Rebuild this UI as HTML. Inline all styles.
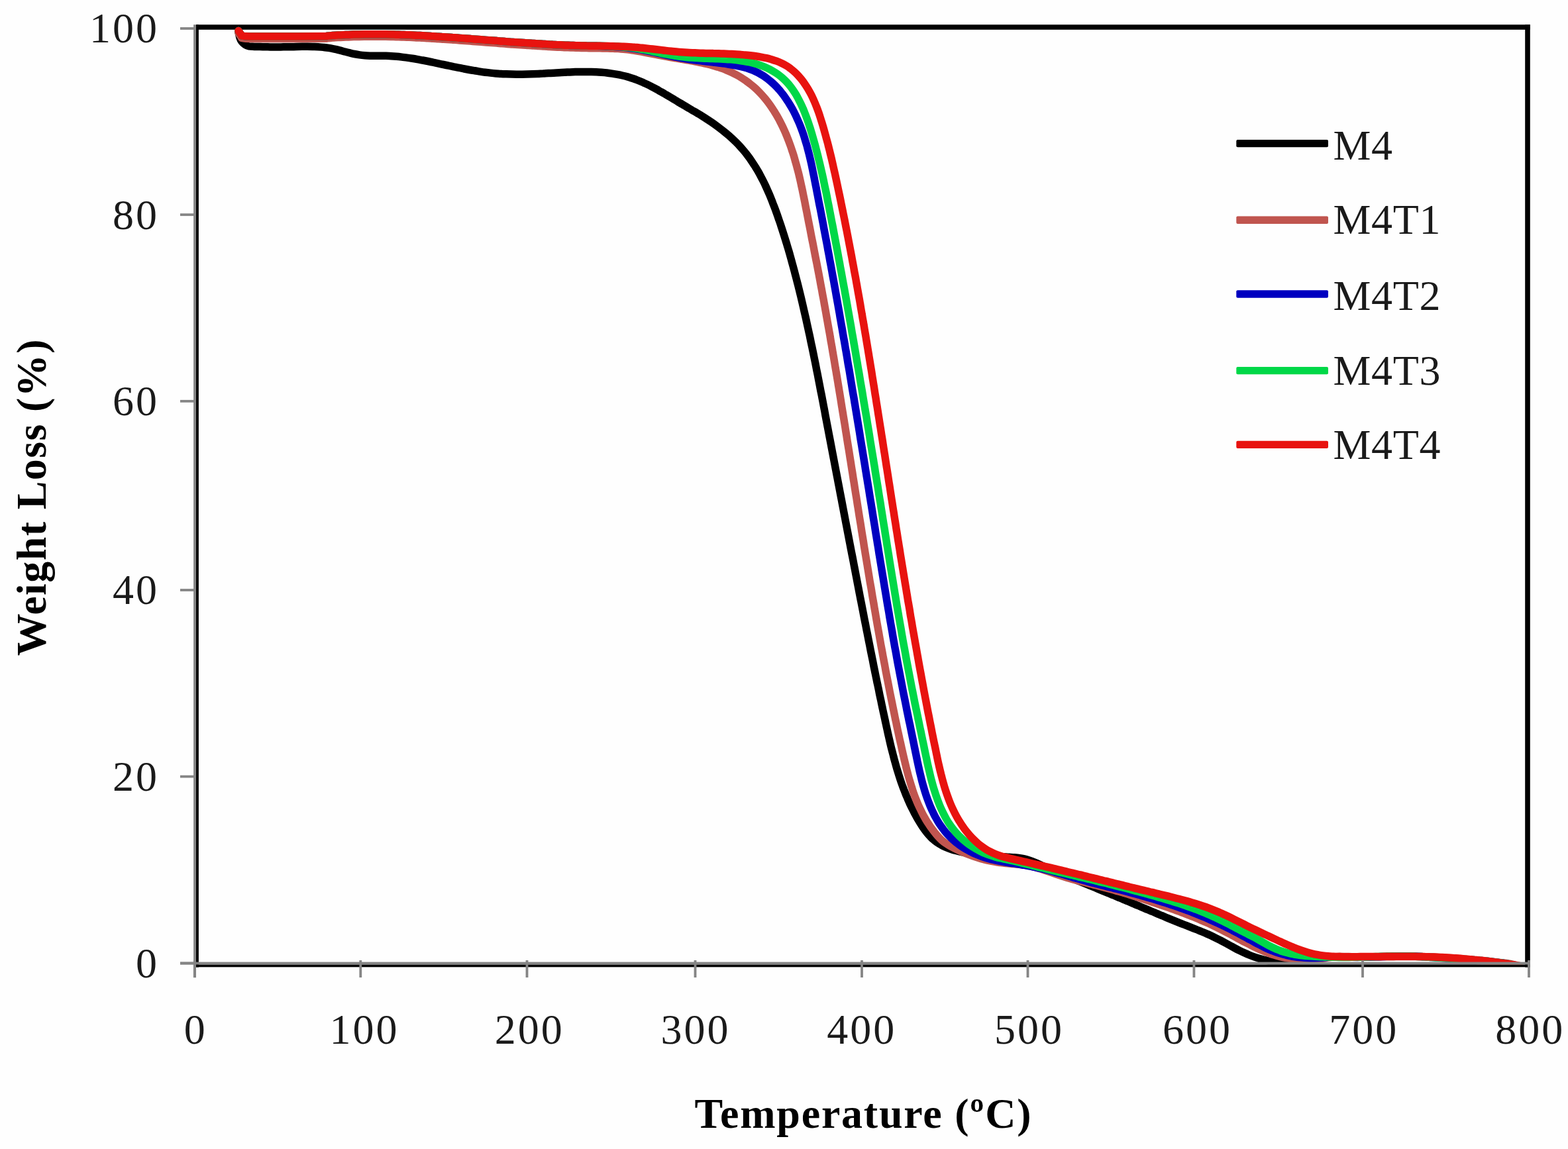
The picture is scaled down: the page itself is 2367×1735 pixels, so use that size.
<!DOCTYPE html>
<html lang="en">
<head>
<meta charset="utf-8">
<title>TGA curves: Weight Loss (%) vs Temperature (ºC)</title>
<style>
html,body{margin:0;padding:0;background:#fff;}
body{width:2367px;height:1735px;overflow:hidden;}
svg{display:block;filter:blur(0.7px);}
text{font-family:"Liberation Serif","DejaVu Serif",serif;fill:#1a1a1a;}
.tick{font-size:64px;letter-spacing:3px;}
.leg{font-size:64px;letter-spacing:0.7px;}
.ttl{font-size:64px;font-weight:bold;fill:#000;}
.crv{fill:none;stroke-linecap:round;stroke-linejoin:round;}
</style>
</head>
<body>
<svg width="2367" height="1735" viewBox="0 0 2367 1735">
<rect x="0" y="0" width="2367" height="1735" fill="#fefefe"/>

<g shape-rendering="geometricPrecision">
<rect x="296" y="37.2" width="2013.8" height="7.6" fill="#000"/>
<rect x="2302.2" y="37.2" width="7.6" height="1423.3" fill="#000"/>
<rect x="296" y="37.2" width="3.9" height="1423.3" fill="#000"/>
<rect x="296" y="1456.4" width="2013.8" height="3.9" fill="#000"/>
</g>
<clipPath id="plotclip"><rect x="296" y="30" width="2014" height="1426.5"/></clipPath>
<g class="crv" clip-path="url(#plotclip)">
<path d="M360.0,48.0 C360.3,49.5 361.2,54.5 362.0,57.0 C362.8,59.5 363.7,61.2 365.0,63.0 C366.3,64.8 368.2,66.3 370.0,67.5 C371.8,68.7 373.7,69.5 376.0,70.0 C378.3,70.5 381.3,70.3 384.0,70.4 C386.7,70.5 389.3,70.5 392.0,70.6 C394.7,70.7 397.3,70.8 400.0,70.8 C402.7,70.8 405.4,70.9 408.0,70.9 C410.6,70.9 413.2,70.9 415.9,70.9 C418.5,70.9 421.2,70.9 423.9,70.9 C426.6,70.9 429.2,70.8 431.9,70.8 C434.6,70.8 437.2,70.8 439.9,70.7 C442.6,70.7 445.3,70.6 448.0,70.5 C450.7,70.4 453.3,70.3 456.0,70.3 C458.7,70.3 461.3,70.3 464.0,70.3 C466.7,70.3 469.3,70.3 472.0,70.4 C474.7,70.5 477.3,70.5 480.0,70.7 C482.7,70.9 485.4,71.1 488.0,71.4 C490.6,71.7 493.3,72.0 495.9,72.4 C498.5,72.8 501.1,73.3 503.7,73.8 C506.3,74.3 508.9,74.9 511.5,75.6 C514.1,76.2 516.7,77.0 519.3,77.7 C521.9,78.4 524.4,79.1 527.0,79.7 C529.6,80.3 532.2,81.0 534.8,81.5 C537.4,82.0 540.1,82.5 542.7,82.9 C545.3,83.3 548.0,83.6 550.6,83.8 C553.2,84.0 555.9,84.1 558.6,84.2 C561.3,84.3 563.9,84.3 566.6,84.3 C569.3,84.3 572.0,84.2 574.7,84.2 C577.4,84.2 580.0,84.2 582.7,84.3 C585.4,84.4 588.1,84.5 590.7,84.7 C593.4,84.9 596.0,85.1 598.6,85.3 C601.2,85.5 603.9,85.8 606.5,86.1 C609.1,86.4 611.8,86.8 614.4,87.1 C617.0,87.4 619.7,87.8 622.3,88.2 C624.9,88.6 627.6,89.1 630.2,89.6 C632.8,90.1 635.4,90.5 638.0,91.0 C640.6,91.5 643.3,92.0 645.9,92.5 C648.5,93.0 651.1,93.5 653.7,94.1 C656.3,94.6 658.9,95.2 661.5,95.8 C664.1,96.4 666.8,97.0 669.4,97.5 C672.0,98.0 674.6,98.5 677.2,99.1 C679.8,99.6 682.5,100.2 685.1,100.8 C687.7,101.3 690.4,101.9 693.0,102.4 C695.6,102.9 698.3,103.5 700.9,104.0 C703.5,104.5 706.2,105.0 708.8,105.5 C711.4,106.0 714.1,106.4 716.7,106.8 C719.3,107.2 722.0,107.7 724.6,108.1 C727.2,108.5 729.9,108.9 732.5,109.2 C735.1,109.5 737.8,109.8 740.4,110.1 C743.0,110.4 745.7,110.7 748.3,110.9 C750.9,111.1 753.6,111.2 756.2,111.4 C758.9,111.6 761.6,111.7 764.2,111.8 C766.9,111.9 769.5,112.0 772.1,112.1 C774.7,112.2 777.4,112.2 780.0,112.2 C782.6,112.2 785.4,112.2 788.0,112.2 C790.6,112.2 793.2,112.2 795.9,112.1 C798.5,112.0 801.2,111.9 803.9,111.8 C806.6,111.7 809.3,111.6 812.0,111.5 C814.7,111.4 817.3,111.2 820.0,111.1 C822.7,110.9 825.3,110.8 828.0,110.6 C830.7,110.4 833.4,110.3 836.1,110.2 C838.8,110.1 841.5,109.9 844.2,109.7 C846.9,109.5 849.5,109.4 852.2,109.3 C854.9,109.2 857.6,109.0 860.3,108.9 C863.0,108.8 865.7,108.7 868.4,108.6 C871.1,108.5 873.7,108.4 876.4,108.4 C879.1,108.4 881.7,108.4 884.4,108.4 C887.1,108.4 889.8,108.4 892.4,108.5 C895.0,108.6 897.6,108.7 900.3,108.8 C902.9,108.9 905.7,109.1 908.3,109.3 C910.9,109.5 913.5,109.7 916.1,110.0 C918.7,110.3 921.3,110.7 923.9,111.1 C926.5,111.5 929.1,111.9 931.7,112.4 C934.3,112.9 936.8,113.4 939.4,114.0 C942.0,114.6 944.6,115.2 947.1,115.9 C949.6,116.6 952.1,117.5 954.6,118.3 C957.1,119.1 959.6,120.0 962.1,121.0 C964.6,122.0 967.0,123.0 969.5,124.1 C972.0,125.2 974.4,126.2 976.9,127.4 C979.4,128.6 981.8,129.8 984.2,131.1 C986.6,132.3 989.0,133.6 991.4,134.9 C993.8,136.2 996.1,137.6 998.5,138.9 C1000.9,140.2 1003.2,141.6 1005.6,143.0 C1008.0,144.4 1010.3,145.8 1012.6,147.2 C1014.9,148.6 1017.3,150.0 1019.6,151.4 C1021.9,152.8 1024.2,154.1 1026.5,155.5 C1028.8,156.9 1031.1,158.2 1033.4,159.6 C1035.7,160.9 1038.0,162.3 1040.2,163.6 C1042.5,164.9 1044.7,166.3 1046.9,167.6 C1049.2,168.9 1051.5,170.2 1053.7,171.6 C1056.0,172.9 1058.2,174.3 1060.4,175.7 C1062.6,177.1 1064.8,178.5 1067.0,179.9 C1069.2,181.3 1071.5,182.8 1073.7,184.3 C1075.9,185.8 1078.0,187.3 1080.2,188.9 C1082.4,190.5 1084.6,192.1 1086.7,193.7 C1088.8,195.3 1091.0,197.0 1093.1,198.7 C1095.2,200.4 1097.3,202.1 1099.3,203.8 C1101.3,205.6 1103.3,207.4 1105.3,209.2 C1107.3,211.0 1109.2,212.9 1111.1,214.8 C1113.0,216.7 1114.9,218.6 1116.7,220.6 C1118.5,222.6 1120.3,224.6 1122.0,226.6 C1123.7,228.6 1125.4,230.6 1127.0,232.7 C1128.6,234.8 1130.2,236.9 1131.7,239.1 C1133.2,241.3 1134.7,243.5 1136.2,245.7 C1137.7,247.9 1139.1,250.2 1140.5,252.4 C1141.9,254.7 1143.3,256.9 1144.6,259.2 C1145.9,261.5 1147.2,263.8 1148.4,266.2 C1149.7,268.6 1150.9,270.9 1152.1,273.3 C1153.3,275.7 1154.5,278.1 1155.6,280.5 C1156.7,282.9 1157.8,285.4 1158.9,287.9 C1160.0,290.3 1161.1,292.7 1162.1,295.2 C1163.1,297.7 1164.1,300.2 1165.1,302.7 C1166.1,305.2 1167.0,307.7 1168.0,310.2 C1169.0,312.7 1170.0,315.3 1170.9,317.8 C1171.8,320.3 1172.7,322.8 1173.6,325.3 C1174.5,327.8 1175.3,330.4 1176.2,332.9 C1177.1,335.4 1178.0,337.9 1178.8,340.5 C1179.6,343.1 1180.5,345.6 1181.3,348.2 C1182.1,350.8 1182.9,353.3 1183.7,355.8 C1184.5,358.3 1185.3,360.8 1186.1,363.4 C1186.9,365.9 1187.6,368.5 1188.4,371.1 C1189.2,373.7 1190.0,376.2 1190.7,378.8 C1191.5,381.4 1192.2,383.8 1192.9,386.4 C1193.6,388.9 1194.3,391.5 1195.0,394.1 C1195.7,396.7 1196.4,399.2 1197.1,401.8 C1197.8,404.4 1198.5,407.0 1199.2,409.6 C1199.9,412.2 1200.5,414.7 1201.2,417.3 C1201.9,419.9 1202.5,422.4 1203.2,425.0 C1203.9,427.6 1204.6,430.2 1205.2,432.8 C1205.8,435.4 1206.5,437.9 1207.1,440.5 C1207.7,443.1 1208.4,445.7 1209.0,448.3 C1209.6,450.9 1210.2,453.4 1210.8,456.0 C1211.4,458.6 1212.0,461.2 1212.6,463.8 C1213.2,466.4 1213.8,469.0 1214.4,471.6 C1215.0,474.2 1215.6,476.8 1216.2,479.4 C1216.8,482.0 1217.3,484.6 1217.9,487.2 C1218.5,489.8 1219.0,492.4 1219.6,495.0 C1220.2,497.6 1220.7,500.2 1221.3,502.8 C1221.9,505.4 1222.5,508.0 1223.0,510.6 C1223.5,513.2 1224.0,515.9 1224.6,518.5 C1225.1,521.1 1225.8,523.7 1226.3,526.3 C1226.8,528.9 1227.4,531.5 1227.9,534.1 C1228.4,536.7 1229.0,539.4 1229.5,542.0 C1230.0,544.6 1230.6,547.2 1231.1,549.8 C1231.6,552.4 1232.1,555.1 1232.6,557.7 C1233.1,560.3 1233.7,562.9 1234.2,565.5 C1234.7,568.1 1235.2,570.8 1235.7,573.4 C1236.2,576.0 1236.7,578.6 1237.2,581.2 C1237.7,583.8 1238.2,586.5 1238.7,589.1 C1239.2,591.7 1239.8,594.3 1240.3,596.9 C1240.8,599.5 1241.3,602.2 1241.8,604.8 C1242.3,607.4 1242.8,610.1 1243.3,612.7 C1243.8,615.3 1244.3,617.9 1244.8,620.5 C1245.3,623.1 1245.7,625.8 1246.2,628.4 C1246.7,631.0 1247.2,633.7 1247.7,636.3 C1248.2,638.9 1248.7,641.5 1249.2,644.1 C1249.7,646.7 1250.2,649.4 1250.7,652.0 C1251.2,654.6 1251.7,657.3 1252.2,659.9 C1252.7,662.5 1253.2,665.1 1253.7,667.7 C1254.2,670.3 1254.7,673.0 1255.2,675.6 C1255.7,678.2 1256.2,680.9 1256.7,683.5 C1257.2,686.1 1257.7,688.7 1258.2,691.3 C1258.7,693.9 1259.2,696.6 1259.7,699.2 C1260.2,701.8 1260.7,704.5 1261.2,707.1 C1261.7,709.7 1262.2,712.3 1262.7,714.9 C1263.2,717.5 1263.7,720.2 1264.2,722.8 C1264.7,725.4 1265.2,728.0 1265.7,730.6 C1266.2,733.2 1266.7,735.9 1267.2,738.5 C1267.7,741.1 1268.2,743.8 1268.7,746.4 C1269.2,749.0 1269.7,751.6 1270.2,754.2 C1270.7,756.8 1271.2,759.5 1271.7,762.1 C1272.2,764.7 1272.7,767.4 1273.2,770.0 C1273.7,772.6 1274.2,775.2 1274.7,777.8 C1275.2,780.4 1275.7,783.1 1276.2,785.7 C1276.7,788.3 1277.2,790.9 1277.7,793.5 C1278.2,796.1 1278.7,798.8 1279.2,801.4 C1279.7,804.0 1280.2,806.6 1280.7,809.2 C1281.2,811.8 1281.7,814.5 1282.2,817.1 C1282.7,819.7 1283.2,822.3 1283.7,824.9 C1284.2,827.5 1284.7,830.2 1285.2,832.8 C1285.7,835.4 1286.3,838.1 1286.8,840.7 C1287.3,843.3 1287.8,845.9 1288.3,848.5 C1288.8,851.1 1289.3,853.8 1289.8,856.4 C1290.3,859.0 1290.8,861.6 1291.3,864.2 C1291.8,866.8 1292.3,869.4 1292.8,872.0 C1293.3,874.6 1293.8,877.3 1294.3,879.9 C1294.8,882.5 1295.3,885.1 1295.8,887.7 C1296.3,890.3 1296.8,893.0 1297.3,895.6 C1297.8,898.2 1298.3,900.8 1298.8,903.4 C1299.3,906.0 1299.9,908.7 1300.4,911.3 C1300.9,913.9 1301.4,916.5 1301.9,919.1 C1302.4,921.7 1302.9,924.3 1303.4,926.9 C1303.9,929.5 1304.4,932.2 1304.9,934.8 C1305.4,937.4 1306.0,940.0 1306.5,942.6 C1307.0,945.2 1307.5,947.9 1308.0,950.5 C1308.5,953.1 1309.1,955.7 1309.6,958.3 C1310.1,960.9 1310.6,963.5 1311.1,966.1 C1311.6,968.7 1312.2,971.4 1312.7,974.0 C1313.2,976.6 1313.7,979.2 1314.2,981.8 C1314.7,984.4 1315.3,987.1 1315.8,989.7 C1316.3,992.3 1316.9,994.9 1317.4,997.5 C1317.9,1000.1 1318.4,1002.7 1318.9,1005.3 C1319.4,1007.9 1320.0,1010.6 1320.5,1013.2 C1321.0,1015.8 1321.6,1018.4 1322.1,1021.0 C1322.6,1023.6 1323.2,1026.3 1323.7,1028.9 C1324.2,1031.5 1324.9,1034.1 1325.4,1036.7 C1326.0,1039.3 1326.5,1042.0 1327.0,1044.6 C1327.5,1047.2 1328.0,1049.8 1328.6,1052.4 C1329.1,1055.0 1329.8,1057.7 1330.3,1060.3 C1330.8,1062.9 1331.4,1065.5 1331.9,1068.1 C1332.5,1070.7 1333.0,1073.4 1333.6,1076.0 C1334.2,1078.6 1334.7,1081.2 1335.3,1083.8 C1335.9,1086.4 1336.4,1089.1 1337.0,1091.7 C1337.6,1094.3 1338.1,1096.9 1338.7,1099.5 C1339.3,1102.1 1339.8,1104.8 1340.4,1107.4 C1341.0,1110.0 1341.6,1112.6 1342.2,1115.2 C1342.8,1117.8 1343.4,1120.5 1344.0,1123.1 C1344.6,1125.7 1345.2,1128.3 1345.9,1130.9 C1346.6,1133.5 1347.2,1136.0 1347.9,1138.6 C1348.6,1141.2 1349.2,1143.8 1349.9,1146.4 C1350.6,1149.0 1351.3,1151.5 1352.0,1154.1 C1352.7,1156.7 1353.4,1159.2 1354.2,1161.8 C1355.0,1164.3 1355.8,1166.9 1356.6,1169.4 C1357.4,1171.9 1358.2,1174.5 1359.0,1177.0 C1359.8,1179.5 1360.7,1182.1 1361.6,1184.6 C1362.5,1187.1 1363.5,1189.5 1364.4,1192.0 C1365.4,1194.5 1366.3,1196.9 1367.3,1199.4 C1368.3,1201.9 1369.4,1204.3 1370.4,1206.8 C1371.5,1209.2 1372.5,1211.7 1373.6,1214.1 C1374.7,1216.5 1375.9,1218.8 1377.1,1221.2 C1378.3,1223.6 1379.5,1225.9 1380.7,1228.3 C1382.0,1230.7 1383.3,1233.1 1384.6,1235.4 C1385.9,1237.7 1387.3,1240.0 1388.7,1242.3 C1390.1,1244.6 1391.5,1246.8 1393.0,1249.0 C1394.5,1251.2 1396.1,1253.4 1397.7,1255.5 C1399.3,1257.6 1401.0,1259.6 1402.8,1261.6 C1404.6,1263.5 1406.3,1265.5 1408.3,1267.2 C1410.2,1269.0 1412.3,1270.6 1414.5,1272.1 C1416.7,1273.6 1419.0,1275.0 1421.3,1276.2 C1423.6,1277.5 1426.0,1278.5 1428.5,1279.6 C1431.0,1280.6 1433.5,1281.6 1436.1,1282.5 C1438.7,1283.4 1441.3,1284.1 1444.0,1284.8 C1446.7,1285.5 1449.3,1286.1 1452.0,1286.7 C1454.7,1287.3 1457.4,1287.7 1460.1,1288.2 C1462.8,1288.7 1465.4,1289.1 1468.0,1289.5 C1470.6,1289.9 1473.3,1290.2 1475.9,1290.5 C1478.5,1290.8 1481.2,1291.1 1483.8,1291.4 C1486.4,1291.7 1489.0,1291.9 1491.6,1292.1 C1494.2,1292.3 1496.8,1292.5 1499.4,1292.7 C1502.0,1292.9 1504.7,1293.0 1507.3,1293.2 C1509.9,1293.4 1512.5,1293.5 1515.2,1293.7 C1517.9,1293.9 1520.6,1294.0 1523.3,1294.2 C1526.0,1294.4 1528.6,1294.5 1531.3,1294.8 C1534.0,1295.1 1536.7,1295.4 1539.4,1295.8 C1542.1,1296.2 1544.7,1296.6 1547.3,1297.2 C1549.9,1297.8 1552.5,1298.6 1555.0,1299.4 C1557.5,1300.2 1560.0,1301.2 1562.4,1302.2 C1564.9,1303.2 1567.3,1304.3 1569.7,1305.4 C1572.1,1306.5 1574.6,1307.7 1577.0,1308.8 C1579.4,1309.9 1581.8,1310.9 1584.3,1312.0 C1586.8,1313.1 1589.2,1314.2 1591.7,1315.2 C1594.2,1316.2 1596.6,1317.3 1599.1,1318.3 C1601.6,1319.3 1604.0,1320.3 1606.5,1321.3 C1609.0,1322.3 1611.4,1323.4 1613.9,1324.4 C1616.4,1325.4 1618.8,1326.4 1621.3,1327.4 C1623.8,1328.4 1626.1,1329.5 1628.6,1330.5 C1631.0,1331.5 1633.5,1332.5 1636.0,1333.5 C1638.5,1334.5 1640.9,1335.5 1643.4,1336.5 C1645.9,1337.5 1648.3,1338.5 1650.8,1339.5 C1653.3,1340.5 1655.7,1341.6 1658.2,1342.6 C1660.7,1343.6 1663.1,1344.6 1665.6,1345.6 C1668.1,1346.6 1670.5,1347.6 1673.0,1348.6 C1675.5,1349.6 1677.9,1350.7 1680.4,1351.7 C1682.9,1352.7 1685.3,1353.8 1687.8,1354.8 C1690.2,1355.8 1692.6,1356.9 1695.1,1357.9 C1697.5,1358.9 1700.0,1360.0 1702.5,1361.0 C1705.0,1362.0 1707.4,1363.1 1709.9,1364.1 C1712.4,1365.1 1714.8,1366.2 1717.3,1367.2 C1719.8,1368.2 1722.2,1369.3 1724.7,1370.3 C1727.2,1371.3 1729.6,1372.4 1732.1,1373.4 C1734.6,1374.4 1737.0,1375.5 1739.5,1376.5 C1742.0,1377.5 1744.3,1378.6 1746.8,1379.6 C1749.2,1380.6 1751.7,1381.7 1754.2,1382.7 C1756.7,1383.7 1759.1,1384.8 1761.6,1385.8 C1764.1,1386.8 1766.5,1387.8 1769.0,1388.8 C1771.5,1389.8 1773.9,1390.8 1776.4,1391.8 C1778.9,1392.8 1781.3,1393.8 1783.8,1394.8 C1786.3,1395.8 1788.7,1396.7 1791.2,1397.7 C1793.7,1398.7 1796.1,1399.6 1798.6,1400.6 C1801.1,1401.6 1803.5,1402.5 1806.0,1403.5 C1808.5,1404.5 1810.8,1405.5 1813.3,1406.5 C1815.8,1407.5 1818.2,1408.5 1820.7,1409.6 C1823.2,1410.6 1825.6,1411.7 1828.0,1412.8 C1830.4,1413.9 1832.8,1415.1 1835.2,1416.3 C1837.6,1417.5 1840.0,1418.7 1842.4,1419.9 C1844.8,1421.2 1847.2,1422.5 1849.6,1423.8 C1852.0,1425.1 1854.4,1426.4 1856.8,1427.7 C1859.2,1429.0 1861.5,1430.3 1863.9,1431.6 C1866.3,1432.9 1868.7,1434.1 1871.1,1435.3 C1873.5,1436.5 1876.0,1437.7 1878.4,1438.8 C1880.8,1439.9 1883.2,1441.0 1885.7,1442.0 C1888.2,1443.0 1890.7,1443.9 1893.2,1444.8 C1895.7,1445.7 1898.2,1446.5 1900.7,1447.3 C1903.2,1448.1 1905.8,1448.7 1908.3,1449.4 C1910.8,1450.1 1913.4,1450.7 1916.0,1451.3 C1918.6,1451.9 1921.2,1452.4 1923.8,1452.9 C1926.4,1453.4 1929.0,1453.8 1931.6,1454.2 C1934.2,1454.6 1936.8,1455.0 1939.4,1455.3 C1942.0,1455.6 1944.7,1456.0 1947.3,1456.3 C1949.9,1456.6 1952.6,1456.8 1955.3,1457.0 C1958.0,1457.2 1960.5,1457.4 1963.2,1457.6 C1965.9,1457.8 1968.5,1457.9 1971.2,1458.0 C1973.9,1458.1 1976.6,1458.3 1979.3,1458.4 C1982.0,1458.5 1984.6,1458.6 1987.3,1458.7 C1990.0,1458.8 1992.6,1458.9 1995.3,1458.9 C1998.0,1459.0 2000.7,1459.0 2003.4,1459.0 C2006.1,1459.0 2008.7,1459.0 2011.4,1459.1 C2014.1,1459.1 2016.7,1459.3 2019.4,1459.3 C2022.1,1459.3 2024.7,1459.3 2027.4,1459.3 C2030.1,1459.3 2032.8,1459.4 2035.5,1459.4 C2038.2,1459.4 2040.8,1459.5 2043.5,1459.5 C2046.2,1459.5 2048.8,1459.5 2051.5,1459.5 C2054.2,1459.5 2056.8,1459.5 2059.5,1459.5 C2062.2,1459.5 2064.8,1459.5 2067.5,1459.5 C2070.2,1459.5 2072.8,1459.5 2075.5,1459.5 C2078.2,1459.5 2080.8,1459.5 2083.5,1459.5 C2086.2,1459.5 2088.8,1459.4 2091.5,1459.4 C2094.2,1459.4 2096.8,1459.4 2099.5,1459.4 C2102.2,1459.4 2104.8,1459.3 2107.5,1459.3 C2110.2,1459.3 2112.8,1459.3 2115.4,1459.3 C2118.1,1459.3 2120.7,1459.2 2123.4,1459.2 C2126.1,1459.2 2128.7,1459.1 2131.4,1459.1 C2134.1,1459.1 2136.7,1459.1 2139.4,1459.1 C2142.1,1459.1 2144.7,1459.0 2147.4,1459.0 C2150.1,1459.0 2152.7,1458.9 2155.4,1458.9 C2158.1,1458.9 2160.7,1458.9 2163.4,1458.9 C2166.1,1458.9 2168.7,1458.8 2171.4,1458.8 C2174.1,1458.8 2176.8,1458.8 2179.4,1458.8 C2182.1,1458.8 2184.7,1458.7 2187.3,1458.7 C2190.0,1458.7 2192.6,1458.7 2195.3,1458.7 C2198.0,1458.7 2200.6,1458.7 2203.3,1458.7 C2206.0,1458.7 2208.6,1458.6 2211.3,1458.6 C2214.0,1458.6 2216.6,1458.6 2219.3,1458.6 C2222.0,1458.6 2224.6,1458.6 2227.3,1458.6 C2230.0,1458.6 2232.6,1458.7 2235.3,1458.7 C2238.0,1458.7 2240.6,1458.7 2243.3,1458.7 C2246.0,1458.7 2248.6,1458.8 2251.3,1458.8 C2254.0,1458.8 2256.7,1458.9 2259.4,1458.9 C2262.1,1458.9 2264.7,1459.0 2267.4,1459.0 C2270.1,1459.0 2273.3,1459.1 2275.4,1459.1 C2277.5,1459.1 2279.2,1459.2 2280.0,1459.2" stroke="#000000" stroke-width="11.5"/>
<path d="M360.0,50.0 C360.7,50.9 362.2,54.1 364.0,55.5 C365.8,56.9 361.7,57.8 371.0,58.3 C380.3,58.8 400.8,58.4 420.0,58.4 C439.2,58.4 473.7,58.4 486.0,58.3 C498.3,58.2 491.3,57.9 494.0,57.7 C496.7,57.5 499.3,57.3 502.0,57.1 C504.7,56.9 507.3,56.8 510.0,56.6 C512.7,56.5 515.3,56.3 518.0,56.2 C520.7,56.1 523.3,56.0 526.0,55.9 C528.7,55.8 531.3,55.7 534.0,55.6 C536.7,55.5 539.3,55.5 542.0,55.4 C544.7,55.3 547.3,55.3 550.0,55.3 C552.7,55.3 555.3,55.2 558.0,55.2 C560.7,55.2 563.3,55.2 566.0,55.2 C568.7,55.2 571.3,55.2 574.0,55.2 C576.7,55.2 579.3,55.2 582.0,55.3 C584.7,55.3 587.4,55.4 590.0,55.5 C592.6,55.6 595.2,55.6 597.9,55.7 C600.5,55.8 603.2,55.8 605.9,55.9 C608.6,56.0 611.2,56.1 613.9,56.2 C616.6,56.3 619.2,56.4 621.9,56.5 C624.6,56.6 627.2,56.8 629.9,56.9 C632.6,57.0 635.2,57.2 637.9,57.3 C640.6,57.4 643.2,57.6 645.9,57.7 C648.5,57.9 651.1,58.0 653.8,58.2 C656.4,58.4 659.1,58.5 661.8,58.7 C664.5,58.9 667.1,59.0 669.8,59.2 C672.5,59.4 675.1,59.6 677.8,59.8 C680.5,60.0 683.1,60.1 685.8,60.3 C688.5,60.5 691.1,60.7 693.8,60.9 C696.4,61.1 699.1,61.3 701.7,61.5 C704.4,61.7 707.0,61.9 709.7,62.1 C712.4,62.3 715.0,62.5 717.7,62.7 C720.4,62.9 723.0,63.1 725.7,63.3 C728.4,63.5 731.1,63.7 733.7,63.9 C736.4,64.1 739.0,64.3 741.6,64.5 C744.2,64.7 746.9,64.9 749.6,65.1 C752.3,65.3 754.9,65.6 757.6,65.8 C760.3,66.0 762.9,66.2 765.6,66.4 C768.3,66.6 771.0,66.7 773.6,66.9 C776.2,67.1 778.9,67.3 781.5,67.5 C784.1,67.7 786.8,67.9 789.5,68.1 C792.2,68.3 794.8,68.4 797.5,68.6 C800.2,68.8 802.8,68.9 805.5,69.1 C808.2,69.3 810.8,69.4 813.5,69.6 C816.2,69.8 818.9,69.9 821.5,70.1 C824.1,70.3 826.8,70.4 829.4,70.6 C832.0,70.8 834.7,70.9 837.4,71.0 C840.1,71.1 842.7,71.2 845.4,71.3 C848.1,71.4 850.7,71.6 853.4,71.7 C856.1,71.8 858.7,71.9 861.4,72.0 C864.1,72.1 866.7,72.1 869.4,72.2 C872.1,72.3 874.7,72.3 877.4,72.4 C880.1,72.5 882.8,72.5 885.4,72.6 C888.0,72.6 890.6,72.7 893.3,72.7 C895.9,72.7 898.6,72.8 901.3,72.8 C904.0,72.8 906.6,72.9 909.3,72.9 C912.0,72.9 914.6,72.9 917.3,73.0 C920.0,73.1 922.6,73.2 925.3,73.3 C928.0,73.4 930.6,73.4 933.3,73.6 C936.0,73.8 938.6,74.0 941.3,74.2 C944.0,74.5 946.6,74.7 949.3,75.1 C952.0,75.5 954.7,76.0 957.3,76.4 C959.9,76.8 962.5,77.2 965.1,77.6 C967.7,78.0 970.3,78.5 972.9,79.0 C975.5,79.5 978.2,80.0 980.8,80.5 C983.4,81.0 986.1,81.5 988.7,82.0 C991.3,82.5 994.0,83.1 996.6,83.6 C999.2,84.1 1001.9,84.6 1004.5,85.1 C1007.1,85.6 1009.8,86.0 1012.4,86.5 C1015.0,87.0 1017.7,87.5 1020.3,87.9 C1022.9,88.4 1025.6,88.8 1028.2,89.2 C1030.8,89.6 1033.5,90.0 1036.1,90.5 C1038.7,91.0 1041.3,91.4 1043.9,91.9 C1046.5,92.4 1049.2,92.8 1051.8,93.3 C1054.4,93.8 1057.0,94.3 1059.6,94.9 C1062.2,95.5 1064.7,96.1 1067.3,96.7 C1069.9,97.3 1072.5,97.9 1075.0,98.6 C1077.5,99.3 1080.1,100.1 1082.6,100.9 C1085.1,101.7 1087.7,102.5 1090.2,103.4 C1092.7,104.3 1095.1,105.3 1097.6,106.3 C1100.1,107.3 1102.6,108.4 1105.0,109.6 C1107.4,110.8 1109.8,112.0 1112.2,113.3 C1114.6,114.6 1116.9,116.0 1119.2,117.4 C1121.5,118.8 1123.8,120.4 1126.0,121.9 C1128.2,123.5 1130.3,125.0 1132.4,126.7 C1134.5,128.3 1136.6,130.1 1138.6,131.8 C1140.6,133.6 1142.5,135.3 1144.4,137.2 C1146.3,139.1 1148.1,141.0 1149.9,143.0 C1151.7,145.0 1153.4,147.0 1155.1,149.0 C1156.8,151.0 1158.4,153.1 1160.0,155.2 C1161.6,157.3 1163.1,159.5 1164.6,161.7 C1166.1,163.9 1167.5,166.2 1168.9,168.4 C1170.3,170.7 1171.7,172.9 1173.0,175.2 C1174.3,177.5 1175.7,179.8 1176.9,182.2 C1178.2,184.6 1179.3,187.0 1180.5,189.4 C1181.7,191.8 1182.8,194.2 1183.9,196.6 C1185.0,199.0 1186.1,201.5 1187.1,204.0 C1188.1,206.5 1189.0,208.9 1190.0,211.4 C1191.0,213.9 1191.9,216.4 1192.8,218.9 C1193.7,221.4 1194.6,223.9 1195.4,226.4 C1196.2,228.9 1197.1,231.4 1197.9,234.0 C1198.7,236.6 1199.4,239.1 1200.1,241.7 C1200.8,244.3 1201.6,246.8 1202.3,249.4 C1203.0,252.0 1203.6,254.5 1204.3,257.1 C1205.0,259.7 1205.7,262.3 1206.3,264.9 C1206.9,267.5 1207.5,270.1 1208.1,272.7 C1208.7,275.3 1209.2,278.0 1209.8,280.6 C1210.4,283.2 1211.0,285.8 1211.5,288.4 C1212.0,291.0 1212.6,293.7 1213.1,296.3 C1213.6,298.9 1214.2,301.6 1214.7,304.2 C1215.2,306.8 1215.7,309.5 1216.2,312.1 C1216.7,314.7 1217.3,317.4 1217.8,320.0 C1218.3,322.6 1218.8,325.3 1219.3,327.9 C1219.8,330.5 1220.3,333.1 1220.8,335.7 C1221.3,338.3 1221.9,341.0 1222.4,343.6 C1222.9,346.2 1223.4,348.9 1223.9,351.5 C1224.4,354.1 1224.9,356.7 1225.4,359.3 C1225.9,361.9 1226.5,364.6 1227.0,367.2 C1227.5,369.8 1228.0,372.4 1228.5,375.0 C1229.0,377.6 1229.5,380.3 1230.0,382.9 C1230.5,385.5 1231.0,388.1 1231.5,390.7 C1232.0,393.3 1232.6,395.9 1233.1,398.5 C1233.6,401.1 1234.1,403.8 1234.6,406.4 C1235.1,409.0 1235.6,411.6 1236.1,414.2 C1236.6,416.8 1237.1,419.5 1237.6,422.1 C1238.1,424.7 1238.5,427.3 1239.0,429.9 C1239.5,432.5 1240.0,435.2 1240.5,437.8 C1241.0,440.4 1241.4,443.0 1241.9,445.6 C1242.4,448.2 1242.9,450.9 1243.4,453.5 C1243.9,456.1 1244.3,458.8 1244.8,461.4 C1245.3,464.0 1245.7,466.6 1246.2,469.2 C1246.7,471.8 1247.1,474.5 1247.6,477.1 C1248.1,479.7 1248.5,482.4 1249.0,485.0 C1249.5,487.6 1249.9,490.2 1250.4,492.8 C1250.9,495.4 1251.3,498.1 1251.8,500.7 C1252.3,503.3 1252.8,506.0 1253.2,508.6 C1253.7,511.2 1254.0,513.9 1254.5,516.5 C1255.0,519.1 1255.5,521.7 1255.9,524.3 C1256.4,526.9 1256.8,529.6 1257.2,532.2 C1257.7,534.8 1258.1,537.5 1258.6,540.1 C1259.0,542.7 1259.5,545.4 1259.9,548.0 C1260.3,550.6 1260.8,553.3 1261.2,555.9 C1261.7,558.5 1262.1,561.2 1262.6,563.8 C1263.0,566.4 1263.5,569.1 1263.9,571.7 C1264.3,574.3 1264.8,577.0 1265.2,579.6 C1265.6,582.2 1266.1,584.9 1266.5,587.5 C1266.9,590.1 1267.4,592.8 1267.8,595.4 C1268.2,598.0 1268.7,600.7 1269.1,603.3 C1269.5,605.9 1269.9,608.6 1270.3,611.2 C1270.7,613.8 1271.2,616.5 1271.6,619.1 C1272.0,621.7 1272.5,624.4 1272.9,627.0 C1273.3,629.6 1273.8,632.3 1274.2,634.9 C1274.6,637.5 1275.1,640.2 1275.5,642.8 C1275.9,645.4 1276.3,648.1 1276.7,650.7 C1277.1,653.3 1277.6,656.0 1278.0,658.6 C1278.4,661.2 1278.8,663.9 1279.2,666.5 C1279.6,669.1 1280.1,671.8 1280.5,674.4 C1280.9,677.0 1281.4,679.7 1281.8,682.3 C1282.2,684.9 1282.6,687.6 1283.0,690.2 C1283.4,692.8 1283.9,695.5 1284.3,698.1 C1284.7,700.7 1285.1,703.4 1285.5,706.0 C1285.9,708.6 1286.4,711.3 1286.8,713.9 C1287.2,716.5 1287.6,719.2 1288.0,721.8 C1288.4,724.4 1288.9,727.1 1289.3,729.7 C1289.7,732.3 1290.1,735.0 1290.5,737.6 C1290.9,740.2 1291.4,743.0 1291.8,745.6 C1292.2,748.2 1292.7,750.9 1293.1,753.5 C1293.5,756.1 1293.9,758.8 1294.3,761.4 C1294.7,764.0 1295.2,766.7 1295.6,769.3 C1296.0,771.9 1296.4,774.6 1296.8,777.2 C1297.2,779.8 1297.7,782.5 1298.1,785.1 C1298.5,787.7 1299.0,790.4 1299.4,793.0 C1299.8,795.6 1300.2,798.3 1300.6,800.9 C1301.0,803.5 1301.5,806.2 1301.9,808.8 C1302.3,811.4 1302.8,814.1 1303.2,816.7 C1303.6,819.3 1304.0,822.0 1304.4,824.6 C1304.8,827.2 1305.3,829.9 1305.7,832.5 C1306.1,835.1 1306.6,837.7 1307.0,840.3 C1307.4,842.9 1307.9,845.6 1308.3,848.2 C1308.7,850.8 1309.2,853.5 1309.6,856.1 C1310.0,858.7 1310.5,861.4 1310.9,864.0 C1311.3,866.6 1311.8,869.3 1312.2,871.9 C1312.6,874.5 1313.0,877.2 1313.5,879.8 C1314.0,882.4 1314.5,885.1 1314.9,887.7 C1315.4,890.3 1315.8,892.9 1316.2,895.5 C1316.6,898.1 1317.0,900.8 1317.5,903.4 C1318.0,906.0 1318.5,908.7 1318.9,911.3 C1319.4,913.9 1319.8,916.6 1320.2,919.2 C1320.7,921.8 1321.1,924.4 1321.6,927.0 C1322.0,929.6 1322.5,932.3 1322.9,934.9 C1323.4,937.5 1323.8,940.2 1324.3,942.8 C1324.8,945.4 1325.2,948.1 1325.7,950.7 C1326.2,953.3 1326.6,955.9 1327.1,958.5 C1327.6,961.1 1328.0,963.8 1328.5,966.4 C1329.0,969.0 1329.4,971.7 1329.9,974.3 C1330.4,976.9 1330.9,979.5 1331.4,982.1 C1331.9,984.7 1332.3,987.4 1332.8,990.0 C1333.3,992.6 1333.8,995.2 1334.3,997.8 C1334.8,1000.4 1335.3,1003.1 1335.8,1005.7 C1336.3,1008.3 1336.7,1011.0 1337.2,1013.6 C1337.7,1016.2 1338.2,1018.8 1338.7,1021.4 C1339.2,1024.0 1339.8,1026.7 1340.3,1029.3 C1340.8,1031.9 1341.3,1034.5 1341.8,1037.1 C1342.3,1039.7 1342.8,1042.4 1343.3,1045.0 C1343.8,1047.6 1344.4,1050.2 1344.9,1052.8 C1345.4,1055.4 1346.0,1058.1 1346.5,1060.7 C1347.0,1063.3 1347.6,1066.0 1348.1,1068.6 C1348.6,1071.2 1349.2,1073.8 1349.7,1076.4 C1350.2,1079.0 1350.8,1081.7 1351.3,1084.3 C1351.8,1086.9 1352.5,1089.5 1353.0,1092.1 C1353.5,1094.7 1354.0,1097.4 1354.6,1100.0 C1355.1,1102.6 1355.7,1105.2 1356.3,1107.8 C1356.9,1110.4 1357.4,1113.1 1358.0,1115.7 C1358.6,1118.3 1359.2,1120.9 1359.8,1123.5 C1360.4,1126.1 1360.9,1128.8 1361.5,1131.4 C1362.1,1134.0 1362.7,1136.6 1363.3,1139.2 C1363.9,1141.8 1364.5,1144.4 1365.1,1147.0 C1365.7,1149.6 1366.4,1152.3 1367.0,1154.9 C1367.6,1157.5 1368.2,1160.1 1368.9,1162.7 C1369.6,1165.3 1370.2,1167.8 1370.9,1170.4 C1371.6,1173.0 1372.3,1175.5 1373.1,1178.1 C1373.8,1180.7 1374.6,1183.2 1375.4,1185.8 C1376.2,1188.3 1377.0,1190.9 1377.8,1193.4 C1378.6,1195.9 1379.5,1198.4 1380.4,1200.9 C1381.3,1203.4 1382.3,1205.8 1383.3,1208.3 C1384.3,1210.8 1385.2,1213.2 1386.3,1215.6 C1387.4,1218.0 1388.5,1220.4 1389.7,1222.8 C1390.9,1225.2 1392.0,1227.5 1393.2,1229.8 C1394.4,1232.1 1395.8,1234.5 1397.1,1236.8 C1398.4,1239.1 1399.8,1241.3 1401.3,1243.5 C1402.8,1245.7 1404.2,1248.0 1405.8,1250.2 C1407.4,1252.4 1409.0,1254.5 1410.7,1256.6 C1412.4,1258.7 1414.1,1260.9 1415.9,1262.9 C1417.7,1264.9 1419.6,1266.9 1421.6,1268.7 C1423.6,1270.5 1425.7,1272.1 1427.9,1273.6 C1430.1,1275.1 1432.3,1276.5 1434.6,1277.8 C1436.9,1279.1 1439.2,1280.2 1441.6,1281.4 C1444.0,1282.6 1446.4,1283.7 1448.8,1284.8 C1451.2,1285.9 1453.6,1287.0 1456.1,1288.0 C1458.6,1289.0 1461.1,1290.0 1463.6,1290.9 C1466.1,1291.8 1468.7,1292.8 1471.2,1293.6 C1473.7,1294.4 1476.2,1295.2 1478.8,1296.0 C1481.4,1296.8 1484.0,1297.4 1486.6,1298.1 C1489.2,1298.8 1491.8,1299.4 1494.4,1299.9 C1497.0,1300.5 1499.7,1301.0 1502.3,1301.4 C1504.9,1301.9 1507.5,1302.2 1510.2,1302.6 C1512.9,1302.9 1515.6,1303.2 1518.2,1303.5 C1520.8,1303.8 1523.4,1304.0 1526.1,1304.2 C1528.8,1304.4 1531.4,1304.7 1534.1,1304.9 C1536.8,1305.2 1539.5,1305.4 1542.1,1305.7 C1544.7,1306.0 1547.3,1306.3 1549.9,1306.8 C1552.5,1307.2 1555.1,1307.8 1557.7,1308.4 C1560.3,1309.0 1562.8,1309.7 1565.4,1310.4 C1568.0,1311.1 1570.5,1311.9 1573.1,1312.7 C1575.6,1313.5 1578.2,1314.4 1580.7,1315.3 C1583.2,1316.2 1585.8,1317.0 1588.3,1317.9 C1590.8,1318.8 1593.4,1319.7 1595.9,1320.5 C1598.4,1321.3 1601.0,1322.2 1603.5,1323.0 C1606.0,1323.8 1608.6,1324.6 1611.2,1325.4 C1613.8,1326.2 1616.3,1326.9 1618.9,1327.6 C1621.5,1328.3 1624.0,1329.0 1626.6,1329.7 C1629.2,1330.4 1631.7,1331.1 1634.3,1331.8 C1636.9,1332.5 1639.4,1333.1 1642.0,1333.8 C1644.6,1334.5 1647.1,1335.0 1649.7,1335.7 C1652.3,1336.4 1654.9,1337.0 1657.5,1337.7 C1660.1,1338.4 1662.6,1339.0 1665.2,1339.7 C1667.8,1340.4 1670.3,1341.0 1672.9,1341.7 C1675.5,1342.4 1678.0,1343.1 1680.6,1343.8 C1683.2,1344.5 1685.7,1345.3 1688.3,1346.0 C1690.9,1346.7 1693.5,1347.5 1696.0,1348.2 C1698.5,1349.0 1701.0,1349.7 1703.6,1350.5 C1706.1,1351.3 1708.8,1352.1 1711.3,1352.9 C1713.8,1353.7 1716.4,1354.5 1718.9,1355.3 C1721.4,1356.1 1724.0,1357.0 1726.5,1357.8 C1729.0,1358.6 1731.6,1359.4 1734.1,1360.3 C1736.6,1361.2 1739.2,1362.1 1741.7,1362.9 C1744.2,1363.8 1746.8,1364.6 1749.3,1365.4 C1751.8,1366.2 1754.4,1367.1 1756.9,1368.0 C1759.4,1368.9 1761.9,1369.8 1764.4,1370.7 C1766.9,1371.6 1769.5,1372.5 1772.0,1373.4 C1774.5,1374.3 1777.0,1375.2 1779.5,1376.1 C1782.0,1377.0 1784.5,1378.0 1787.0,1378.9 C1789.5,1379.9 1791.9,1380.8 1794.4,1381.8 C1796.9,1382.8 1799.4,1383.7 1801.9,1384.7 C1804.4,1385.7 1806.8,1386.8 1809.2,1387.8 C1811.7,1388.8 1814.1,1389.9 1816.6,1390.9 C1819.0,1392.0 1821.5,1393.0 1823.9,1394.1 C1826.3,1395.2 1828.7,1396.3 1831.1,1397.5 C1833.5,1398.7 1835.9,1399.8 1838.3,1401.0 C1840.7,1402.2 1843.1,1403.4 1845.4,1404.6 C1847.8,1405.8 1850.1,1407.0 1852.4,1408.3 C1854.8,1409.5 1857.1,1410.8 1859.5,1412.1 C1861.9,1413.4 1864.2,1414.6 1866.6,1415.9 C1868.9,1417.2 1871.2,1418.5 1873.6,1419.7 C1875.9,1421.0 1878.3,1422.2 1880.7,1423.4 C1883.1,1424.6 1885.5,1425.9 1887.9,1427.1 C1890.3,1428.3 1892.7,1429.5 1895.1,1430.7 C1897.5,1431.9 1900.0,1433.0 1902.4,1434.1 C1904.9,1435.2 1907.3,1436.2 1909.8,1437.2 C1912.3,1438.2 1914.8,1439.1 1917.3,1440.0 C1919.8,1440.9 1922.4,1441.7 1924.9,1442.5 C1927.5,1443.3 1930.0,1444.0 1932.6,1444.6 C1935.2,1445.2 1937.8,1445.8 1940.4,1446.3 C1943.0,1446.8 1945.6,1447.2 1948.2,1447.6 C1950.8,1448.0 1953.5,1448.2 1956.2,1448.5 C1958.9,1448.8 1961.6,1449.0 1964.2,1449.1 C1966.8,1449.2 1969.4,1449.2 1972.1,1449.2 C1974.8,1449.2 1977.4,1449.2 1980.1,1449.0 C1982.8,1448.8 1985.4,1448.6 1988.1,1448.3 C1990.8,1448.0 1993.4,1447.7 1996.0,1447.3 C1998.6,1446.9 2001.3,1446.5 2003.9,1446.1 C2006.5,1445.7 2009.2,1445.3 2011.8,1445.0 C2014.4,1444.7 2017.1,1444.5 2019.8,1444.4 C2022.5,1444.3 2025.0,1444.4 2027.7,1444.4 C2030.4,1444.4 2033.0,1444.5 2035.7,1444.6 C2038.4,1444.7 2041.0,1444.8 2043.7,1444.8 C2046.4,1444.8 2049.0,1444.9 2051.7,1444.9 C2054.4,1444.9 2057.0,1445.0 2059.7,1445.0 C2062.4,1445.0 2065.0,1445.0 2067.7,1445.0 C2070.4,1445.0 2073.0,1445.0 2075.7,1445.0 C2078.4,1445.0 2081.0,1444.9 2083.7,1444.9 C2086.4,1444.9 2089.0,1444.8 2091.7,1444.8 C2094.4,1444.8 2097.0,1444.7 2099.7,1444.7 C2102.4,1444.7 2105.0,1444.6 2107.7,1444.6 C2110.4,1444.6 2113.0,1444.5 2115.7,1444.5 C2118.4,1444.5 2121.0,1444.5 2123.7,1444.5 C2126.4,1444.5 2129.0,1444.5 2131.7,1444.5 C2134.4,1444.5 2137.0,1444.5 2139.7,1444.5 C2142.4,1444.5 2145.0,1444.5 2147.7,1444.6 C2150.4,1444.6 2153.0,1444.7 2155.7,1444.8 C2158.4,1444.9 2161.0,1444.9 2163.7,1445.0 C2166.3,1445.1 2168.9,1445.2 2171.6,1445.4 C2174.2,1445.6 2176.9,1445.7 2179.6,1445.9 C2182.3,1446.1 2184.9,1446.2 2187.6,1446.4 C2190.3,1446.6 2192.9,1446.8 2195.6,1447.1 C2198.3,1447.3 2200.9,1447.6 2203.6,1447.9 C2206.2,1448.2 2208.8,1448.4 2211.5,1448.7 C2214.2,1449.0 2216.8,1449.2 2219.5,1449.5 C2222.2,1449.8 2224.8,1450.0 2227.5,1450.3 C2230.2,1450.6 2232.8,1450.8 2235.4,1451.1 C2238.1,1451.4 2240.7,1451.7 2243.4,1451.9 C2246.1,1452.2 2248.7,1452.4 2251.4,1452.6 C2254.1,1452.8 2256.8,1453.0 2259.4,1453.2 C2262.1,1453.4 2264.7,1453.6 2267.3,1453.8 C2270.0,1454.0 2272.7,1454.2 2275.3,1454.6 C2277.9,1455.0 2280.5,1455.4 2283.1,1456.0 C2285.7,1456.6 2289.2,1457.9 2290.8,1458.4 C2292.5,1459.0 2292.6,1459.2 2293.0,1459.3" stroke="#c0554f" stroke-width="11.5"/>
<path d="M360.0,46.5 C360.7,47.4 362.2,50.6 364.0,52.0 C365.8,53.4 361.7,54.3 371.0,54.8 C380.3,55.3 400.8,54.9 420.0,54.9 C439.2,54.9 473.7,54.9 486.0,54.8 C498.3,54.7 491.3,54.4 494.0,54.2 C496.7,54.0 499.3,53.8 502.0,53.6 C504.7,53.4 507.3,53.2 510.0,53.1 C512.7,53.0 515.3,52.8 518.0,52.7 C520.7,52.6 523.3,52.5 526.0,52.4 C528.7,52.3 531.3,52.2 534.0,52.1 C536.7,52.0 539.3,52.0 542.0,51.9 C544.7,51.8 547.3,51.8 550.0,51.8 C552.7,51.8 555.3,51.7 558.0,51.7 C560.7,51.7 563.3,51.7 566.0,51.7 C568.7,51.7 571.3,51.7 574.0,51.7 C576.7,51.7 579.3,51.8 582.0,51.8 C584.7,51.8 587.4,51.9 590.0,52.0 C592.6,52.1 595.2,52.1 597.9,52.2 C600.5,52.3 603.2,52.3 605.9,52.4 C608.6,52.5 611.2,52.6 613.9,52.7 C616.6,52.8 619.2,52.9 621.9,53.0 C624.6,53.1 627.2,53.3 629.9,53.4 C632.6,53.5 635.2,53.7 637.9,53.8 C640.6,53.9 643.2,54.1 645.9,54.2 C648.5,54.4 651.1,54.5 653.8,54.7 C656.4,54.9 659.1,55.0 661.8,55.2 C664.5,55.4 667.1,55.5 669.8,55.7 C672.5,55.9 675.1,56.1 677.8,56.3 C680.5,56.5 683.1,56.6 685.8,56.8 C688.5,57.0 691.1,57.2 693.8,57.4 C696.4,57.6 699.1,57.8 701.7,58.0 C704.4,58.2 707.0,58.4 709.7,58.6 C712.4,58.8 715.0,59.0 717.7,59.2 C720.4,59.4 723.0,59.6 725.7,59.8 C728.4,60.0 731.1,60.2 733.7,60.4 C736.4,60.6 739.0,60.8 741.6,61.0 C744.2,61.2 746.9,61.4 749.6,61.6 C752.3,61.8 754.9,62.1 757.6,62.3 C760.3,62.5 762.9,62.7 765.6,62.9 C768.3,63.1 771.0,63.2 773.6,63.4 C776.2,63.6 778.9,63.8 781.5,64.0 C784.1,64.2 786.8,64.4 789.5,64.6 C792.2,64.8 794.8,64.9 797.5,65.1 C800.2,65.3 802.8,65.4 805.5,65.6 C808.2,65.8 810.8,65.9 813.5,66.1 C816.2,66.3 818.9,66.4 821.5,66.6 C824.1,66.8 826.8,66.9 829.4,67.1 C832.0,67.2 834.7,67.4 837.4,67.5 C840.1,67.6 842.7,67.7 845.4,67.8 C848.1,67.9 850.7,68.1 853.4,68.2 C856.1,68.3 858.7,68.4 861.4,68.5 C864.1,68.6 866.7,68.6 869.4,68.7 C872.1,68.8 874.7,68.8 877.4,68.9 C880.1,69.0 882.8,69.0 885.4,69.1 C888.0,69.1 890.6,69.2 893.3,69.2 C895.9,69.2 898.6,69.2 901.3,69.3 C904.0,69.3 906.6,69.4 909.3,69.5 C912.0,69.6 914.6,69.8 917.3,69.9 C920.0,70.0 922.6,70.1 925.3,70.2 C928.0,70.3 930.6,70.5 933.3,70.7 C936.0,70.9 938.6,71.0 941.3,71.3 C944.0,71.5 946.6,71.9 949.3,72.2 C952.0,72.5 954.7,72.9 957.3,73.3 C959.9,73.7 962.5,74.1 965.1,74.6 C967.7,75.0 970.4,75.5 973.0,76.0 C975.6,76.5 978.3,77.1 980.9,77.6 C983.5,78.1 986.1,78.6 988.7,79.2 C991.3,79.8 994.0,80.4 996.6,81.0 C999.2,81.6 1001.9,82.2 1004.5,82.8 C1007.1,83.4 1009.7,84.0 1012.3,84.5 C1014.9,85.0 1017.6,85.6 1020.2,86.1 C1022.8,86.6 1025.4,87.1 1028.0,87.6 C1030.6,88.1 1033.2,88.5 1035.8,88.9 C1038.4,89.3 1041.1,89.7 1043.7,90.1 C1046.3,90.5 1048.9,90.8 1051.5,91.1 C1054.1,91.4 1056.8,91.8 1059.4,92.1 C1062.0,92.4 1064.6,92.7 1067.2,93.0 C1069.8,93.3 1072.4,93.6 1075.1,93.9 C1077.8,94.2 1080.4,94.6 1083.1,94.9 C1085.8,95.2 1088.4,95.6 1091.1,95.9 C1093.8,96.2 1096.4,96.6 1099.1,97.0 C1101.8,97.4 1104.5,97.8 1107.2,98.3 C1109.9,98.8 1112.5,99.3 1115.2,99.9 C1117.9,100.5 1120.6,101.0 1123.2,101.7 C1125.8,102.4 1128.4,103.2 1130.9,104.1 C1133.4,105.0 1136.0,105.9 1138.4,106.9 C1140.8,108.0 1143.2,109.2 1145.5,110.4 C1147.8,111.7 1150.0,113.0 1152.2,114.4 C1154.4,115.8 1156.5,117.4 1158.6,119.0 C1160.7,120.6 1162.7,122.3 1164.7,124.0 C1166.7,125.7 1168.6,127.5 1170.5,129.4 C1172.4,131.3 1174.2,133.2 1175.9,135.2 C1177.7,137.2 1179.3,139.3 1181.0,141.4 C1182.7,143.5 1184.3,145.7 1185.8,147.9 C1187.3,150.1 1188.8,152.3 1190.2,154.6 C1191.6,156.9 1193.1,159.2 1194.4,161.5 C1195.8,163.8 1197.1,166.1 1198.3,168.5 C1199.5,170.9 1200.7,173.3 1201.8,175.7 C1202.9,178.1 1204.0,180.6 1205.1,183.0 C1206.2,185.4 1207.2,187.8 1208.2,190.3 C1209.2,192.8 1210.1,195.3 1211.0,197.8 C1211.9,200.3 1212.8,202.8 1213.6,205.3 C1214.4,207.8 1215.1,210.4 1215.9,212.9 C1216.7,215.4 1217.5,218.0 1218.2,220.6 C1218.9,223.2 1219.5,225.7 1220.2,228.3 C1220.9,230.9 1221.6,233.5 1222.2,236.1 C1222.8,238.7 1223.4,241.3 1224.0,243.9 C1224.6,246.5 1225.2,249.1 1225.7,251.7 C1226.2,254.3 1226.8,257.0 1227.3,259.6 C1227.8,262.2 1228.4,264.8 1228.9,267.4 C1229.4,270.0 1229.9,272.7 1230.4,275.3 C1230.9,277.9 1231.5,280.6 1232.0,283.2 C1232.5,285.8 1233.0,288.5 1233.5,291.1 C1234.0,293.7 1234.5,296.4 1235.0,299.0 C1235.5,301.6 1236.0,304.2 1236.5,306.8 C1237.0,309.4 1237.6,312.1 1238.1,314.7 C1238.6,317.3 1239.1,319.9 1239.6,322.5 C1240.1,325.1 1240.6,327.8 1241.1,330.4 C1241.6,333.0 1242.1,335.7 1242.6,338.3 C1243.1,340.9 1243.5,343.5 1244.0,346.1 C1244.5,348.7 1245.0,351.4 1245.5,354.0 C1246.0,356.6 1246.5,359.2 1247.0,361.8 C1247.5,364.4 1248.0,367.1 1248.5,369.7 C1249.0,372.3 1249.4,375.0 1249.9,377.6 C1250.4,380.2 1250.9,382.8 1251.4,385.4 C1251.9,388.0 1252.3,390.7 1252.8,393.3 C1253.3,395.9 1253.8,398.5 1254.3,401.1 C1254.8,403.7 1255.2,406.4 1255.7,409.0 C1256.2,411.6 1256.6,414.3 1257.1,416.9 C1257.6,419.5 1258.1,422.2 1258.6,424.8 C1259.1,427.4 1259.5,430.0 1260.0,432.6 C1260.5,435.2 1260.9,437.9 1261.4,440.5 C1261.9,443.1 1262.3,445.8 1262.8,448.4 C1263.3,451.0 1263.7,453.6 1264.2,456.2 C1264.7,458.8 1265.1,461.5 1265.6,464.1 C1266.1,466.7 1266.5,469.4 1267.0,472.0 C1267.5,474.6 1267.8,477.3 1268.3,479.9 C1268.8,482.5 1269.2,485.2 1269.7,487.8 C1270.2,490.4 1270.6,493.0 1271.1,495.6 C1271.5,498.2 1272.0,500.9 1272.4,503.5 C1272.9,506.1 1273.3,508.8 1273.8,511.4 C1274.3,514.0 1274.8,516.7 1275.2,519.3 C1275.7,521.9 1276.0,524.6 1276.5,527.2 C1277.0,529.8 1277.5,532.5 1277.9,535.1 C1278.4,537.7 1278.8,540.3 1279.2,542.9 C1279.6,545.5 1280.0,548.2 1280.5,550.8 C1281.0,553.4 1281.5,556.1 1281.9,558.7 C1282.4,561.3 1282.8,564.0 1283.2,566.6 C1283.6,569.2 1284.1,571.9 1284.5,574.5 C1284.9,577.1 1285.4,579.8 1285.8,582.4 C1286.2,585.0 1286.6,587.7 1287.1,590.3 C1287.5,592.9 1288.0,595.6 1288.5,598.2 C1289.0,600.8 1289.4,603.5 1289.8,606.1 C1290.2,608.7 1290.7,611.4 1291.1,614.0 C1291.5,616.6 1292.0,619.3 1292.4,621.9 C1292.8,624.5 1293.3,627.2 1293.7,629.8 C1294.1,632.4 1294.6,635.1 1295.0,637.7 C1295.4,640.3 1295.9,642.9 1296.3,645.5 C1296.7,648.1 1297.2,650.8 1297.6,653.4 C1298.0,656.0 1298.4,658.7 1298.8,661.3 C1299.2,663.9 1299.7,666.6 1300.1,669.2 C1300.5,671.8 1301.0,674.5 1301.4,677.1 C1301.8,679.7 1302.3,682.4 1302.7,685.0 C1303.1,687.6 1303.6,690.3 1304.0,692.9 C1304.4,695.5 1304.9,698.2 1305.3,700.8 C1305.7,703.4 1306.1,706.1 1306.5,708.7 C1306.9,711.3 1307.4,714.0 1307.8,716.6 C1308.2,719.2 1308.7,721.9 1309.1,724.5 C1309.5,727.1 1310.0,729.8 1310.4,732.4 C1310.8,735.0 1311.3,737.7 1311.7,740.3 C1312.1,742.9 1312.5,745.6 1312.9,748.2 C1313.3,750.8 1313.8,753.5 1314.2,756.1 C1314.6,758.7 1315.1,761.4 1315.5,764.0 C1315.9,766.6 1316.4,769.3 1316.8,771.9 C1317.2,774.5 1317.6,777.2 1318.0,779.8 C1318.4,782.4 1318.9,785.1 1319.3,787.7 C1319.7,790.3 1320.2,793.0 1320.6,795.6 C1321.0,798.2 1321.4,800.9 1321.8,803.5 C1322.2,806.1 1322.7,808.8 1323.1,811.4 C1323.5,814.0 1324.0,816.7 1324.4,819.3 C1324.8,821.9 1325.3,824.6 1325.7,827.2 C1326.1,829.8 1326.5,832.5 1326.9,835.1 C1327.3,837.7 1327.8,840.4 1328.2,843.0 C1328.6,845.6 1329.1,848.3 1329.5,850.9 C1329.9,853.5 1330.4,856.2 1330.8,858.8 C1331.2,861.4 1331.7,864.1 1332.1,866.7 C1332.5,869.3 1333.0,872.0 1333.4,874.6 C1333.8,877.2 1334.3,879.9 1334.7,882.5 C1335.1,885.1 1335.6,887.7 1336.0,890.3 C1336.4,892.9 1336.9,895.6 1337.3,898.2 C1337.7,900.8 1338.2,903.5 1338.6,906.1 C1339.0,908.7 1339.5,911.4 1339.9,914.0 C1340.4,916.6 1340.8,919.3 1341.3,921.9 C1341.8,924.5 1342.2,927.2 1342.6,929.8 C1343.0,932.4 1343.5,935.1 1343.9,937.7 C1344.4,940.3 1344.8,943.0 1345.3,945.6 C1345.8,948.2 1346.2,950.8 1346.7,953.4 C1347.2,956.0 1347.5,958.7 1348.0,961.3 C1348.5,963.9 1348.9,966.6 1349.4,969.2 C1349.9,971.8 1350.3,974.5 1350.8,977.1 C1351.3,979.7 1351.8,982.3 1352.3,984.9 C1352.8,987.5 1353.2,990.2 1353.7,992.8 C1354.2,995.4 1354.6,998.1 1355.1,1000.7 C1355.6,1003.3 1356.1,1005.9 1356.6,1008.5 C1357.1,1011.1 1357.6,1013.8 1358.1,1016.4 C1358.6,1019.0 1359.1,1021.7 1359.6,1024.3 C1360.1,1026.9 1360.6,1029.5 1361.1,1032.1 C1361.6,1034.7 1362.1,1037.4 1362.6,1040.0 C1363.1,1042.6 1363.6,1045.3 1364.1,1047.9 C1364.6,1050.5 1365.2,1053.1 1365.7,1055.7 C1366.2,1058.3 1366.8,1061.0 1367.3,1063.6 C1367.8,1066.2 1368.3,1068.8 1368.8,1071.4 C1369.3,1074.0 1369.9,1076.6 1370.4,1079.2 C1370.9,1081.8 1371.5,1084.5 1372.0,1087.1 C1372.5,1089.7 1373.2,1092.3 1373.7,1094.9 C1374.2,1097.5 1374.8,1100.2 1375.3,1102.8 C1375.8,1105.4 1376.4,1108.0 1376.9,1110.6 C1377.4,1113.2 1378.0,1115.8 1378.5,1118.4 C1379.0,1121.0 1379.6,1123.7 1380.1,1126.3 C1380.6,1128.9 1381.2,1131.5 1381.7,1134.1 C1382.2,1136.7 1382.8,1139.3 1383.3,1141.9 C1383.8,1144.5 1384.4,1147.1 1384.9,1149.7 C1385.5,1152.3 1386.0,1154.9 1386.6,1157.5 C1387.2,1160.1 1387.7,1162.7 1388.3,1165.3 C1388.9,1167.9 1389.6,1170.4 1390.2,1173.0 C1390.8,1175.6 1391.4,1178.2 1392.1,1180.8 C1392.8,1183.4 1393.5,1185.9 1394.3,1188.5 C1395.0,1191.1 1395.8,1193.7 1396.6,1196.2 C1397.4,1198.8 1398.2,1201.3 1399.1,1203.8 C1400.0,1206.3 1400.9,1208.9 1401.9,1211.4 C1402.9,1213.9 1403.8,1216.4 1404.9,1218.9 C1406.0,1221.4 1407.1,1223.9 1408.3,1226.3 C1409.5,1228.7 1410.6,1231.2 1411.9,1233.5 C1413.2,1235.8 1414.5,1238.1 1415.9,1240.4 C1417.3,1242.7 1418.7,1244.9 1420.2,1247.1 C1421.7,1249.3 1423.3,1251.4 1425.0,1253.5 C1426.7,1255.6 1428.3,1257.6 1430.1,1259.6 C1431.9,1261.6 1433.8,1263.5 1435.7,1265.3 C1437.6,1267.1 1439.6,1268.9 1441.6,1270.6 C1443.6,1272.3 1445.8,1273.9 1447.9,1275.5 C1450.1,1277.1 1452.2,1278.6 1454.5,1280.0 C1456.8,1281.4 1459.1,1282.8 1461.4,1284.1 C1463.8,1285.4 1466.2,1286.6 1468.6,1287.8 C1471.0,1289.0 1473.4,1290.0 1475.9,1291.0 C1478.4,1292.0 1480.9,1292.9 1483.4,1293.8 C1485.9,1294.7 1488.5,1295.5 1491.0,1296.2 C1493.5,1296.9 1496.1,1297.6 1498.7,1298.2 C1501.3,1298.8 1503.9,1299.4 1506.5,1299.9 C1509.1,1300.4 1511.8,1300.9 1514.4,1301.4 C1517.0,1301.9 1519.7,1302.3 1522.3,1302.7 C1524.9,1303.1 1527.6,1303.5 1530.3,1303.9 C1533.0,1304.3 1535.6,1304.7 1538.2,1305.1 C1540.8,1305.5 1543.5,1306.0 1546.1,1306.4 C1548.7,1306.9 1551.4,1307.3 1554.0,1307.8 C1556.6,1308.3 1559.3,1308.9 1561.9,1309.4 C1564.5,1310.0 1567.1,1310.5 1569.7,1311.1 C1572.3,1311.7 1574.9,1312.3 1577.5,1313.0 C1580.1,1313.7 1582.6,1314.3 1585.2,1315.0 C1587.8,1315.7 1590.3,1316.4 1592.9,1317.1 C1595.5,1317.8 1598.0,1318.6 1600.6,1319.3 C1603.2,1320.0 1605.8,1320.8 1608.3,1321.5 C1610.8,1322.2 1613.4,1323.0 1615.9,1323.8 C1618.5,1324.5 1621.0,1325.3 1623.6,1326.0 C1626.2,1326.7 1628.7,1327.5 1631.3,1328.2 C1633.9,1328.9 1636.4,1329.6 1639.0,1330.3 C1641.6,1331.0 1644.1,1331.7 1646.7,1332.4 C1649.3,1333.1 1651.9,1333.7 1654.5,1334.4 C1657.1,1335.1 1659.6,1335.8 1662.2,1336.4 C1664.8,1337.1 1667.4,1337.7 1670.0,1338.3 C1672.6,1338.9 1675.1,1339.6 1677.7,1340.3 C1680.3,1341.0 1682.9,1341.6 1685.5,1342.3 C1688.1,1343.0 1690.6,1343.6 1693.2,1344.3 C1695.8,1345.0 1698.3,1345.6 1700.9,1346.3 C1703.5,1347.0 1706.1,1347.7 1708.7,1348.4 C1711.3,1349.1 1713.8,1349.8 1716.4,1350.5 C1719.0,1351.2 1721.5,1352.0 1724.1,1352.7 C1726.7,1353.4 1729.2,1354.2 1731.8,1354.9 C1734.4,1355.6 1737.0,1356.3 1739.5,1357.1 C1742.0,1357.9 1744.5,1358.7 1747.1,1359.5 C1749.6,1360.3 1752.2,1361.1 1754.8,1361.9 C1757.3,1362.7 1759.9,1363.5 1762.4,1364.3 C1764.9,1365.1 1767.5,1365.9 1770.0,1366.8 C1772.5,1367.7 1775.0,1368.5 1777.5,1369.4 C1780.0,1370.3 1782.6,1371.2 1785.1,1372.1 C1787.6,1373.0 1790.1,1373.9 1792.6,1374.8 C1795.1,1375.7 1797.5,1376.7 1800.0,1377.7 C1802.5,1378.7 1804.9,1379.6 1807.4,1380.6 C1809.9,1381.6 1812.3,1382.6 1814.8,1383.6 C1817.3,1384.6 1819.8,1385.7 1822.2,1386.7 C1824.7,1387.8 1827.1,1388.8 1829.5,1389.9 C1831.9,1391.0 1834.3,1392.1 1836.7,1393.2 C1839.1,1394.3 1841.6,1395.4 1844.0,1396.6 C1846.4,1397.8 1848.7,1398.9 1851.1,1400.1 C1853.5,1401.3 1855.9,1402.5 1858.3,1403.7 C1860.7,1404.9 1863.0,1406.2 1865.4,1407.4 C1867.8,1408.7 1870.1,1409.9 1872.5,1411.2 C1874.9,1412.5 1877.2,1413.7 1879.6,1415.0 C1881.9,1416.3 1884.2,1417.5 1886.6,1418.8 C1888.9,1420.1 1891.3,1421.4 1893.7,1422.7 C1896.1,1424.0 1898.4,1425.2 1900.8,1426.4 C1903.2,1427.6 1905.6,1428.8 1908.0,1430.0 C1910.4,1431.2 1912.8,1432.3 1915.3,1433.4 C1917.8,1434.5 1920.2,1435.5 1922.7,1436.4 C1925.2,1437.4 1927.7,1438.3 1930.2,1439.1 C1932.7,1439.9 1935.2,1440.6 1937.8,1441.3 C1940.4,1442.0 1943.0,1442.5 1945.6,1443.1 C1948.2,1443.6 1950.8,1444.2 1953.4,1444.6 C1956.0,1445.0 1958.7,1445.3 1961.3,1445.6 C1963.9,1445.9 1966.6,1446.1 1969.3,1446.3 C1972.0,1446.5 1974.6,1446.6 1977.3,1446.7 C1980.0,1446.8 1982.6,1446.8 1985.3,1446.7 C1988.0,1446.6 1990.6,1446.5 1993.3,1446.3 C1996.0,1446.1 1998.6,1445.9 2001.3,1445.7 C2004.0,1445.5 2006.5,1445.2 2009.2,1445.0 C2011.9,1444.8 2014.5,1444.7 2017.2,1444.7 C2019.9,1444.7 2022.6,1444.8 2025.2,1444.8 C2027.8,1444.8 2030.4,1444.9 2033.1,1445.0 C2035.8,1445.1 2038.4,1445.2 2041.1,1445.3 C2043.8,1445.4 2046.4,1445.4 2049.1,1445.4 C2051.8,1445.4 2054.4,1445.3 2057.1,1445.3 C2059.8,1445.3 2062.4,1445.2 2065.1,1445.2 C2067.8,1445.2 2070.4,1445.1 2073.1,1445.0 C2075.8,1444.9 2078.4,1444.8 2081.1,1444.7 C2083.8,1444.6 2086.4,1444.6 2089.1,1444.5 C2091.8,1444.4 2094.4,1444.3 2097.1,1444.2 C2099.8,1444.1 2102.4,1444.1 2105.1,1444.0 C2107.8,1443.9 2110.4,1443.8 2113.1,1443.8 C2115.8,1443.8 2118.4,1443.8 2121.1,1443.8 C2123.8,1443.8 2126.4,1443.8 2129.1,1443.8 C2131.8,1443.8 2134.4,1444.0 2137.1,1444.1 C2139.8,1444.2 2142.4,1444.3 2145.1,1444.4 C2147.8,1444.5 2150.3,1444.7 2153.0,1444.9 C2155.7,1445.1 2158.3,1445.2 2161.0,1445.4 C2163.7,1445.6 2166.3,1445.7 2169.0,1445.9 C2171.7,1446.1 2174.3,1446.3 2177.0,1446.5 C2179.7,1446.7 2182.3,1446.8 2185.0,1447.0 C2187.7,1447.2 2190.3,1447.2 2193.0,1447.4 C2195.7,1447.6 2198.3,1447.7 2201.0,1447.9 C2203.7,1448.1 2206.3,1448.2 2209.0,1448.4 C2211.7,1448.6 2214.3,1448.7 2217.0,1448.9 C2219.7,1449.1 2222.2,1449.3 2224.9,1449.5 C2227.6,1449.7 2230.2,1450.0 2232.9,1450.2 C2235.6,1450.4 2238.2,1450.7 2240.9,1450.9 C2243.6,1451.2 2246.2,1451.4 2248.8,1451.7 C2251.5,1452.0 2254.2,1452.3 2256.8,1452.6 C2259.5,1452.9 2262.1,1453.3 2264.7,1453.7 C2267.3,1454.1 2270.0,1454.5 2272.6,1454.9 C2275.2,1455.3 2277.8,1455.8 2280.4,1456.3 C2283.0,1456.8 2286.2,1457.4 2288.3,1457.8 C2290.4,1458.2 2292.3,1458.7 2293.1,1458.9" stroke="#0000c0" stroke-width="11.5"/>
<path d="M360.0,46.5 C360.7,47.4 362.2,50.6 364.0,52.0 C365.8,53.4 361.7,54.3 371.0,54.8 C380.3,55.3 400.8,54.9 420.0,54.9 C439.2,54.9 473.7,54.9 486.0,54.8 C498.3,54.7 491.3,54.4 494.0,54.2 C496.7,54.0 499.3,53.8 502.0,53.6 C504.7,53.4 507.3,53.2 510.0,53.1 C512.7,53.0 515.3,52.8 518.0,52.7 C520.7,52.6 523.3,52.5 526.0,52.4 C528.7,52.3 531.3,52.2 534.0,52.1 C536.7,52.0 539.3,52.0 542.0,51.9 C544.7,51.8 547.3,51.8 550.0,51.8 C552.7,51.8 555.3,51.7 558.0,51.7 C560.7,51.7 563.3,51.7 566.0,51.7 C568.7,51.7 571.3,51.7 574.0,51.7 C576.7,51.7 579.3,51.8 582.0,51.8 C584.7,51.8 587.4,51.9 590.0,52.0 C592.6,52.1 595.2,52.1 597.9,52.2 C600.5,52.3 603.2,52.3 605.9,52.4 C608.6,52.5 611.2,52.6 613.9,52.7 C616.6,52.8 619.2,52.9 621.9,53.0 C624.6,53.1 627.2,53.3 629.9,53.4 C632.6,53.5 635.2,53.7 637.9,53.8 C640.6,53.9 643.2,54.1 645.9,54.2 C648.5,54.4 651.1,54.5 653.8,54.7 C656.4,54.9 659.1,55.0 661.8,55.2 C664.5,55.4 667.1,55.5 669.8,55.7 C672.5,55.9 675.1,56.1 677.8,56.3 C680.5,56.5 683.1,56.6 685.8,56.8 C688.5,57.0 691.1,57.2 693.8,57.4 C696.4,57.6 699.1,57.8 701.7,58.0 C704.4,58.2 707.0,58.4 709.7,58.6 C712.4,58.8 715.0,59.0 717.7,59.2 C720.4,59.4 723.0,59.6 725.7,59.8 C728.4,60.0 731.1,60.2 733.7,60.4 C736.4,60.6 739.0,60.8 741.6,61.0 C744.2,61.2 746.9,61.4 749.6,61.6 C752.3,61.8 754.9,62.1 757.6,62.3 C760.3,62.5 762.9,62.7 765.6,62.9 C768.3,63.1 771.0,63.2 773.6,63.4 C776.2,63.6 778.9,63.8 781.5,64.0 C784.1,64.2 786.8,64.4 789.5,64.6 C792.2,64.8 794.8,64.9 797.5,65.1 C800.2,65.3 802.8,65.4 805.5,65.6 C808.2,65.8 810.8,65.9 813.5,66.1 C816.2,66.3 818.9,66.4 821.5,66.6 C824.1,66.8 826.8,66.9 829.4,67.1 C832.0,67.2 834.7,67.4 837.4,67.5 C840.1,67.6 842.7,67.7 845.4,67.8 C848.1,67.9 850.7,68.1 853.4,68.2 C856.1,68.3 858.7,68.4 861.4,68.5 C864.1,68.6 866.7,68.6 869.4,68.7 C872.1,68.8 874.7,68.8 877.4,68.9 C880.1,69.0 882.8,69.0 885.4,69.1 C888.0,69.1 890.6,69.2 893.3,69.2 C895.9,69.2 898.6,69.3 901.3,69.3 C904.0,69.3 906.6,69.3 909.3,69.4 C912.0,69.5 914.6,69.6 917.3,69.7 C920.0,69.8 922.6,69.9 925.3,70.0 C928.0,70.1 930.6,70.1 933.3,70.3 C936.0,70.5 938.6,70.7 941.3,70.9 C944.0,71.1 946.6,71.3 949.3,71.6 C952.0,71.9 954.7,72.2 957.3,72.6 C959.9,73.0 962.5,73.4 965.1,73.8 C967.7,74.2 970.4,74.7 973.0,75.2 C975.6,75.7 978.3,76.2 980.9,76.7 C983.5,77.2 986.2,77.8 988.8,78.3 C991.4,78.8 994.1,79.5 996.7,80.0 C999.3,80.5 1001.9,81.1 1004.5,81.6 C1007.1,82.1 1009.8,82.6 1012.4,83.1 C1015.0,83.6 1017.7,84.0 1020.3,84.4 C1022.9,84.8 1025.6,85.2 1028.2,85.6 C1030.8,85.9 1033.4,86.2 1036.1,86.5 C1038.8,86.8 1041.4,86.9 1044.1,87.1 C1046.8,87.3 1049.3,87.4 1052.0,87.6 C1054.7,87.8 1057.3,87.9 1060.0,88.0 C1062.7,88.1 1065.3,88.2 1068.0,88.3 C1070.7,88.4 1073.3,88.4 1076.0,88.5 C1078.7,88.6 1081.2,88.7 1083.9,88.8 C1086.6,88.9 1089.2,89.0 1091.9,89.2 C1094.6,89.4 1097.2,89.5 1099.9,89.7 C1102.6,89.9 1105.2,90.0 1107.9,90.3 C1110.6,90.6 1113.2,90.9 1115.8,91.3 C1118.4,91.7 1121.2,92.0 1123.8,92.5 C1126.4,93.0 1129.0,93.4 1131.6,94.0 C1134.2,94.6 1136.8,95.3 1139.4,96.0 C1142.0,96.7 1144.6,97.5 1147.1,98.4 C1149.6,99.3 1152.1,100.2 1154.6,101.3 C1157.0,102.3 1159.4,103.5 1161.8,104.7 C1164.2,105.9 1166.5,107.2 1168.8,108.6 C1171.1,110.0 1173.3,111.4 1175.4,113.0 C1177.5,114.6 1179.5,116.2 1181.5,118.0 C1183.5,119.8 1185.4,121.6 1187.2,123.5 C1189.0,125.4 1190.8,127.5 1192.5,129.6 C1194.2,131.7 1195.7,133.8 1197.2,136.0 C1198.7,138.2 1200.2,140.5 1201.6,142.8 C1203.0,145.1 1204.2,147.5 1205.5,149.9 C1206.8,152.3 1207.9,154.7 1209.1,157.1 C1210.2,159.5 1211.4,161.9 1212.4,164.4 C1213.5,166.9 1214.4,169.3 1215.4,171.8 C1216.4,174.3 1217.3,176.7 1218.2,179.2 C1219.1,181.7 1220.0,184.3 1220.8,186.8 C1221.6,189.3 1222.5,191.9 1223.3,194.4 C1224.1,196.9 1224.8,199.4 1225.6,202.0 C1226.3,204.6 1227.1,207.1 1227.8,209.7 C1228.5,212.3 1229.3,214.8 1230.0,217.4 C1230.7,220.0 1231.3,222.5 1232.0,225.1 C1232.7,227.7 1233.3,230.2 1234.0,232.8 C1234.7,235.4 1235.3,238.0 1235.9,240.6 C1236.5,243.2 1237.2,245.7 1237.8,248.3 C1238.4,250.9 1239.0,253.5 1239.6,256.1 C1240.2,258.7 1240.8,261.3 1241.4,263.9 C1242.0,266.5 1242.5,269.1 1243.1,271.7 C1243.6,274.3 1244.2,276.9 1244.7,279.5 C1245.2,282.1 1245.9,284.8 1246.4,287.4 C1247.0,290.0 1247.5,292.6 1248.0,295.2 C1248.5,297.8 1249.0,300.5 1249.5,303.1 C1250.0,305.7 1250.6,308.3 1251.1,310.9 C1251.6,313.5 1252.1,316.2 1252.6,318.8 C1253.1,321.4 1253.6,324.0 1254.1,326.6 C1254.6,329.2 1255.1,331.9 1255.6,334.5 C1256.1,337.1 1256.7,339.8 1257.2,342.4 C1257.7,345.0 1258.1,347.6 1258.6,350.2 C1259.1,352.8 1259.6,355.5 1260.1,358.1 C1260.6,360.7 1261.1,363.4 1261.6,366.0 C1262.1,368.6 1262.6,371.2 1263.1,373.8 C1263.6,376.4 1264.1,379.1 1264.6,381.7 C1265.1,384.3 1265.5,387.0 1266.0,389.6 C1266.5,392.2 1267.0,394.8 1267.5,397.4 C1268.0,400.0 1268.4,402.7 1268.9,405.3 C1269.4,407.9 1269.9,410.6 1270.4,413.2 C1270.9,415.8 1271.3,418.5 1271.8,421.1 C1272.3,423.7 1272.7,426.3 1273.2,428.9 C1273.7,431.5 1274.2,434.2 1274.7,436.8 C1275.2,439.4 1275.6,442.1 1276.1,444.7 C1276.6,447.3 1277.0,449.9 1277.5,452.5 C1278.0,455.1 1278.4,457.8 1278.9,460.4 C1279.4,463.0 1279.8,465.7 1280.3,468.3 C1280.8,470.9 1281.2,473.6 1281.7,476.2 C1282.2,478.8 1282.6,481.5 1283.1,484.1 C1283.6,486.7 1284.0,489.3 1284.5,491.9 C1285.0,494.5 1285.3,497.2 1285.8,499.8 C1286.2,502.4 1286.7,505.1 1287.2,507.7 C1287.7,510.3 1288.1,513.0 1288.6,515.6 C1289.0,518.2 1289.5,520.9 1289.9,523.5 C1290.4,526.1 1290.8,528.7 1291.3,531.3 C1291.8,533.9 1292.1,536.6 1292.6,539.2 C1293.0,541.8 1293.5,544.5 1294.0,547.1 C1294.5,549.7 1294.8,552.4 1295.3,555.0 C1295.8,557.6 1296.2,560.3 1296.7,562.9 C1297.2,565.5 1297.6,568.2 1298.0,570.8 C1298.4,573.4 1298.8,576.1 1299.3,578.7 C1299.8,581.3 1300.2,583.9 1300.7,586.5 C1301.2,589.1 1301.6,591.8 1302.0,594.4 C1302.4,597.0 1302.9,599.7 1303.3,602.3 C1303.7,604.9 1304.2,607.6 1304.6,610.2 C1305.0,612.8 1305.5,615.5 1305.9,618.1 C1306.4,620.7 1306.8,623.4 1307.3,626.0 C1307.8,628.6 1308.2,631.3 1308.6,633.9 C1309.0,636.5 1309.5,639.2 1309.9,641.8 C1310.3,644.4 1310.8,647.1 1311.2,649.7 C1311.6,652.3 1312.1,655.0 1312.5,657.6 C1312.9,660.2 1313.3,662.9 1313.7,665.5 C1314.1,668.1 1314.6,670.8 1315.0,673.4 C1315.4,676.0 1315.9,678.7 1316.3,681.3 C1316.7,683.9 1317.2,686.5 1317.6,689.1 C1318.0,691.7 1318.5,694.4 1318.9,697.0 C1319.3,699.6 1319.8,702.3 1320.2,704.9 C1320.6,707.5 1321.0,710.2 1321.4,712.8 C1321.8,715.4 1322.3,718.1 1322.7,720.7 C1323.1,723.3 1323.6,726.0 1324.0,728.6 C1324.4,731.2 1324.9,733.9 1325.3,736.5 C1325.7,739.1 1326.1,741.8 1326.5,744.4 C1326.9,747.0 1327.4,749.7 1327.8,752.3 C1328.2,754.9 1328.7,757.6 1329.1,760.2 C1329.5,762.8 1329.9,765.5 1330.3,768.1 C1330.7,770.7 1331.2,773.4 1331.6,776.0 C1332.0,778.6 1332.4,781.3 1332.8,783.9 C1333.2,786.5 1333.7,789.2 1334.1,791.8 C1334.5,794.4 1335.0,797.1 1335.4,799.7 C1335.8,802.3 1336.2,805.0 1336.6,807.6 C1337.0,810.2 1337.5,812.9 1337.9,815.5 C1338.3,818.1 1338.7,820.8 1339.1,823.4 C1339.5,826.0 1340.0,828.7 1340.4,831.3 C1340.8,833.9 1341.3,836.6 1341.7,839.2 C1342.1,841.8 1342.5,844.5 1342.9,847.1 C1343.3,849.7 1343.8,852.4 1344.2,855.0 C1344.6,857.6 1345.1,860.3 1345.5,862.9 C1345.9,865.5 1346.4,868.2 1346.8,870.8 C1347.2,873.4 1347.7,876.1 1348.1,878.7 C1348.5,881.3 1349.0,884.0 1349.4,886.6 C1349.8,889.2 1350.3,891.9 1350.7,894.5 C1351.1,897.1 1351.6,899.8 1352.0,902.4 C1352.4,905.0 1352.9,907.7 1353.3,910.3 C1353.7,912.9 1354.1,915.6 1354.6,918.2 C1355.0,920.8 1355.5,923.5 1356.0,926.1 C1356.5,928.7 1356.8,931.3 1357.3,933.9 C1357.8,936.5 1358.2,939.2 1358.7,941.8 C1359.2,944.4 1359.6,947.1 1360.1,949.7 C1360.5,952.3 1361.0,955.0 1361.4,957.6 C1361.9,960.2 1362.3,962.9 1362.8,965.5 C1363.3,968.1 1363.7,970.7 1364.2,973.3 C1364.7,975.9 1365.2,978.6 1365.7,981.2 C1366.2,983.8 1366.6,986.5 1367.1,989.1 C1367.6,991.7 1368.0,994.4 1368.5,997.0 C1369.0,999.6 1369.5,1002.2 1370.0,1004.8 C1370.5,1007.4 1371.0,1010.1 1371.5,1012.7 C1372.0,1015.3 1372.5,1017.9 1373.0,1020.5 C1373.5,1023.1 1374.0,1025.8 1374.5,1028.4 C1375.0,1031.0 1375.5,1033.7 1376.0,1036.3 C1376.5,1038.9 1377.1,1041.5 1377.6,1044.1 C1378.1,1046.7 1378.7,1049.4 1379.2,1052.0 C1379.7,1054.6 1380.2,1057.2 1380.7,1059.8 C1381.2,1062.4 1381.8,1065.0 1382.3,1067.6 C1382.8,1070.2 1383.5,1072.9 1384.0,1075.5 C1384.5,1078.1 1385.1,1080.7 1385.6,1083.3 C1386.1,1085.9 1386.7,1088.5 1387.2,1091.1 C1387.7,1093.7 1388.2,1096.4 1388.8,1099.0 C1389.3,1101.6 1390.0,1104.2 1390.5,1106.8 C1391.0,1109.4 1391.5,1112.0 1392.1,1114.6 C1392.6,1117.2 1393.2,1119.9 1393.8,1122.5 C1394.3,1125.1 1394.9,1127.7 1395.4,1130.3 C1395.9,1132.9 1396.5,1135.5 1397.0,1138.1 C1397.5,1140.7 1398.2,1143.3 1398.7,1145.9 C1399.2,1148.5 1399.7,1151.1 1400.3,1153.7 C1400.9,1156.3 1401.5,1158.9 1402.1,1161.5 C1402.7,1164.1 1403.3,1166.7 1403.9,1169.3 C1404.5,1171.9 1405.1,1174.4 1405.8,1177.0 C1406.5,1179.6 1407.2,1182.2 1407.9,1184.8 C1408.6,1187.4 1409.4,1190.0 1410.2,1192.5 C1411.0,1195.0 1411.8,1197.6 1412.6,1200.1 C1413.4,1202.6 1414.4,1205.2 1415.3,1207.7 C1416.2,1210.2 1417.2,1212.8 1418.2,1215.3 C1419.2,1217.8 1420.3,1220.3 1421.4,1222.7 C1422.5,1225.1 1423.7,1227.5 1424.9,1229.9 C1426.1,1232.3 1427.4,1234.7 1428.7,1237.0 C1430.0,1239.3 1431.4,1241.6 1432.9,1243.8 C1434.4,1246.0 1435.9,1248.2 1437.5,1250.3 C1439.1,1252.4 1440.8,1254.5 1442.5,1256.5 C1444.2,1258.5 1446.0,1260.5 1447.9,1262.4 C1449.8,1264.3 1451.7,1266.0 1453.7,1267.8 C1455.7,1269.5 1457.8,1271.3 1459.9,1272.9 C1462.0,1274.5 1464.2,1276.1 1466.4,1277.6 C1468.6,1279.1 1470.9,1280.5 1473.2,1281.8 C1475.5,1283.1 1477.9,1284.4 1480.3,1285.6 C1482.7,1286.8 1485.1,1287.9 1487.6,1288.9 C1490.1,1289.9 1492.6,1290.8 1495.1,1291.7 C1497.6,1292.6 1500.2,1293.4 1502.8,1294.1 C1505.4,1294.8 1507.9,1295.4 1510.5,1296.0 C1513.1,1296.6 1515.7,1297.0 1518.3,1297.6 C1520.9,1298.1 1523.6,1298.7 1526.2,1299.3 C1528.8,1299.9 1531.3,1300.4 1533.9,1301.0 C1536.5,1301.6 1539.1,1302.3 1541.7,1302.9 C1544.3,1303.5 1546.9,1304.2 1549.5,1304.8 C1552.1,1305.4 1554.6,1306.1 1557.2,1306.7 C1559.8,1307.3 1562.4,1308.0 1565.0,1308.6 C1567.6,1309.2 1570.2,1309.9 1572.8,1310.5 C1575.4,1311.1 1577.9,1311.8 1580.5,1312.4 C1583.1,1313.0 1585.7,1313.7 1588.3,1314.3 C1590.9,1314.9 1593.5,1315.5 1596.1,1316.1 C1598.7,1316.7 1601.3,1317.4 1603.9,1318.0 C1606.5,1318.6 1609.1,1319.3 1611.7,1319.9 C1614.3,1320.5 1616.8,1321.1 1619.4,1321.7 C1622.0,1322.3 1624.6,1323.0 1627.2,1323.6 C1629.8,1324.2 1632.4,1324.9 1635.0,1325.5 C1637.6,1326.1 1640.2,1326.7 1642.8,1327.3 C1645.4,1327.9 1648.0,1328.6 1650.6,1329.2 C1653.2,1329.8 1655.7,1330.5 1658.3,1331.1 C1660.9,1331.7 1663.5,1332.4 1666.1,1333.0 C1668.7,1333.6 1671.3,1334.2 1673.9,1334.9 C1676.5,1335.6 1679.1,1336.2 1681.7,1336.9 C1684.3,1337.6 1686.8,1338.2 1689.4,1338.8 C1692.0,1339.4 1694.6,1340.1 1697.2,1340.8 C1699.8,1341.5 1702.3,1342.1 1704.9,1342.8 C1707.5,1343.5 1710.0,1344.2 1712.6,1344.9 C1715.2,1345.6 1717.8,1346.2 1720.4,1346.9 C1723.0,1347.6 1725.5,1348.3 1728.1,1349.0 C1730.7,1349.7 1733.2,1350.5 1735.8,1351.2 C1738.4,1351.9 1740.9,1352.6 1743.5,1353.3 C1746.1,1354.0 1748.6,1354.8 1751.2,1355.5 C1753.8,1356.2 1756.4,1357.0 1758.9,1357.8 C1761.5,1358.6 1764.0,1359.3 1766.5,1360.1 C1769.0,1360.9 1771.5,1361.6 1774.1,1362.4 C1776.6,1363.2 1779.3,1364.1 1781.8,1364.9 C1784.3,1365.7 1786.8,1366.5 1789.3,1367.4 C1791.8,1368.3 1794.4,1369.2 1796.9,1370.1 C1799.4,1371.0 1801.9,1371.9 1804.4,1372.8 C1806.9,1373.7 1809.3,1374.7 1811.8,1375.7 C1814.3,1376.7 1816.7,1377.6 1819.2,1378.6 C1821.7,1379.6 1824.2,1380.7 1826.6,1381.8 C1829.0,1382.9 1831.4,1383.9 1833.8,1385.0 C1836.2,1386.1 1838.7,1387.3 1841.1,1388.5 C1843.5,1389.7 1845.9,1390.8 1848.3,1392.0 C1850.7,1393.2 1853.0,1394.5 1855.4,1395.7 C1857.8,1396.9 1860.1,1398.2 1862.5,1399.4 C1864.9,1400.7 1867.2,1402.0 1869.6,1403.2 C1872.0,1404.5 1874.3,1405.7 1876.7,1406.9 C1879.1,1408.1 1881.4,1409.4 1883.8,1410.6 C1886.2,1411.8 1888.5,1413.0 1890.9,1414.2 C1893.3,1415.4 1895.7,1416.6 1898.0,1417.9 C1900.3,1419.2 1902.7,1420.6 1905.0,1421.9 C1907.3,1423.2 1909.8,1424.6 1912.1,1425.9 C1914.4,1427.2 1916.7,1428.5 1919.1,1429.7 C1921.5,1430.9 1924.0,1432.0 1926.4,1433.1 C1928.9,1434.1 1931.3,1435.1 1933.8,1436.0 C1936.3,1436.9 1938.8,1437.6 1941.3,1438.3 C1943.8,1439.0 1946.4,1439.5 1949.0,1440.1 C1951.6,1440.6 1954.2,1441.2 1956.8,1441.6 C1959.4,1442.0 1962.0,1442.4 1964.7,1442.7 C1967.4,1443.0 1970.0,1443.3 1972.7,1443.5 C1975.4,1443.7 1978.0,1443.9 1980.7,1444.1 C1983.4,1444.3 1986.0,1444.4 1988.7,1444.5 C1991.4,1444.6 1994.0,1444.7 1996.7,1444.8 C1999.4,1444.9 2002.0,1445.0 2004.7,1445.1 C2007.4,1445.2 2010.0,1445.2 2012.7,1445.3 C2015.4,1445.3 2018.0,1445.4 2020.7,1445.4 C2023.4,1445.4 2026.1,1445.4 2028.7,1445.4 C2031.3,1445.4 2033.9,1445.4 2036.6,1445.4 C2039.2,1445.4 2041.9,1445.3 2044.6,1445.3 C2047.3,1445.3 2049.9,1445.2 2052.6,1445.2 C2055.3,1445.2 2057.9,1445.1 2060.6,1445.0 C2063.3,1444.9 2065.9,1444.9 2068.6,1444.8 C2071.3,1444.7 2073.9,1444.6 2076.6,1444.5 C2079.3,1444.4 2081.9,1444.4 2084.6,1444.3 C2087.3,1444.2 2090.0,1444.1 2092.7,1444.1 C2095.4,1444.0 2098.0,1444.0 2100.7,1444.0 C2103.4,1444.0 2106.0,1443.9 2108.7,1443.9 C2111.4,1443.9 2114.0,1443.9 2116.7,1443.9 C2119.4,1443.9 2122.0,1443.9 2124.7,1443.9 C2127.3,1443.9 2129.9,1444.0 2132.6,1444.1 C2135.2,1444.2 2137.9,1444.3 2140.6,1444.4 C2143.3,1444.5 2145.9,1444.7 2148.6,1444.8 C2151.2,1444.9 2153.8,1445.0 2156.5,1445.2 C2159.2,1445.4 2161.8,1445.6 2164.5,1445.7 C2167.2,1445.8 2169.8,1445.9 2172.5,1446.1 C2175.2,1446.2 2177.8,1446.4 2180.5,1446.6 C2183.2,1446.8 2185.8,1446.9 2188.5,1447.1 C2191.2,1447.2 2193.8,1447.3 2196.5,1447.5 C2199.2,1447.7 2201.8,1447.8 2204.5,1448.0 C2207.2,1448.2 2209.8,1448.4 2212.5,1448.6 C2215.2,1448.8 2217.8,1448.9 2220.5,1449.1 C2223.2,1449.3 2225.8,1449.6 2228.5,1449.8 C2231.2,1450.0 2233.8,1450.2 2236.4,1450.5 C2239.1,1450.8 2241.8,1451.0 2244.4,1451.3 C2247.1,1451.6 2249.7,1451.9 2252.3,1452.2 C2255.0,1452.5 2257.7,1452.9 2260.3,1453.2 C2263.0,1453.5 2265.6,1453.9 2268.2,1454.3 C2270.8,1454.7 2273.4,1455.0 2276.0,1455.5 C2278.6,1456.0 2281.3,1456.5 2283.9,1457.0 C2286.5,1457.5 2290.2,1458.2 2291.7,1458.5 C2293.2,1458.8 2292.9,1458.8 2293.1,1458.8" stroke="#00d848" stroke-width="11.5"/>
<path d="M360.0,46.5 C360.7,47.4 362.2,50.6 364.0,52.0 C365.8,53.4 361.7,54.3 371.0,54.8 C380.3,55.3 400.8,54.9 420.0,54.9 C439.2,54.9 473.7,54.9 486.0,54.8 C498.3,54.7 491.3,54.4 494.0,54.2 C496.7,54.0 499.3,53.8 502.0,53.6 C504.7,53.4 507.3,53.2 510.0,53.1 C512.7,53.0 515.3,52.8 518.0,52.7 C520.7,52.6 523.3,52.5 526.0,52.4 C528.7,52.3 531.3,52.2 534.0,52.1 C536.7,52.0 539.3,52.0 542.0,51.9 C544.7,51.8 547.3,51.8 550.0,51.8 C552.7,51.8 555.3,51.7 558.0,51.7 C560.7,51.7 563.3,51.7 566.0,51.7 C568.7,51.7 571.3,51.7 574.0,51.7 C576.7,51.7 579.3,51.8 582.0,51.8 C584.7,51.8 587.4,51.9 590.0,52.0 C592.6,52.1 595.2,52.1 597.9,52.2 C600.5,52.3 603.2,52.3 605.9,52.4 C608.6,52.5 611.2,52.6 613.9,52.7 C616.6,52.8 619.2,52.9 621.9,53.0 C624.6,53.1 627.2,53.3 629.9,53.4 C632.6,53.5 635.2,53.7 637.9,53.8 C640.6,53.9 643.2,54.1 645.9,54.2 C648.5,54.4 651.1,54.5 653.8,54.7 C656.4,54.9 659.1,55.0 661.8,55.2 C664.5,55.4 667.1,55.5 669.8,55.7 C672.5,55.9 675.1,56.1 677.8,56.3 C680.5,56.5 683.1,56.6 685.8,56.8 C688.5,57.0 691.1,57.2 693.8,57.4 C696.4,57.6 699.1,57.8 701.7,58.0 C704.4,58.2 707.0,58.4 709.7,58.6 C712.4,58.8 715.0,59.0 717.7,59.2 C720.4,59.4 723.0,59.6 725.7,59.8 C728.4,60.0 731.1,60.2 733.7,60.4 C736.4,60.6 739.0,60.8 741.6,61.0 C744.2,61.2 746.9,61.4 749.6,61.6 C752.3,61.8 754.9,62.1 757.6,62.3 C760.3,62.5 762.9,62.7 765.6,62.9 C768.3,63.1 771.0,63.2 773.6,63.4 C776.2,63.6 778.9,63.8 781.5,64.0 C784.1,64.2 786.8,64.4 789.5,64.6 C792.2,64.8 794.8,64.9 797.5,65.1 C800.2,65.3 802.8,65.4 805.5,65.6 C808.2,65.8 810.8,65.9 813.5,66.1 C816.2,66.3 818.9,66.4 821.5,66.6 C824.1,66.8 826.8,66.9 829.4,67.1 C832.0,67.2 834.7,67.4 837.4,67.5 C840.1,67.6 842.7,67.7 845.4,67.8 C848.1,67.9 850.7,68.1 853.4,68.2 C856.1,68.3 858.7,68.4 861.4,68.5 C864.1,68.6 866.7,68.6 869.4,68.7 C872.1,68.8 874.7,68.8 877.4,68.9 C880.1,69.0 882.8,69.0 885.4,69.1 C888.0,69.1 890.6,69.2 893.3,69.2 C895.9,69.2 898.6,69.3 901.3,69.3 C904.0,69.3 906.6,69.4 909.3,69.4 C912.0,69.5 914.6,69.5 917.3,69.6 C920.0,69.7 922.6,69.7 925.3,69.8 C928.0,69.9 930.6,69.9 933.3,70.0 C936.0,70.1 938.6,70.2 941.3,70.3 C944.0,70.4 946.6,70.5 949.3,70.7 C952.0,70.9 954.6,71.0 957.3,71.2 C960.0,71.4 962.6,71.7 965.3,71.9 C967.9,72.2 970.6,72.4 973.2,72.7 C975.9,73.0 978.5,73.3 981.2,73.6 C983.9,73.9 986.5,74.2 989.2,74.5 C991.9,74.8 994.6,75.1 997.2,75.4 C999.9,75.7 1002.5,76.1 1005.1,76.4 C1007.8,76.7 1010.4,77.0 1013.1,77.3 C1015.8,77.6 1018.5,77.9 1021.1,78.1 C1023.8,78.3 1026.3,78.5 1029.0,78.7 C1031.7,78.9 1034.3,79.1 1037.0,79.3 C1039.7,79.5 1042.3,79.6 1045.0,79.7 C1047.7,79.8 1050.2,79.9 1052.9,80.0 C1055.6,80.1 1058.2,80.2 1060.9,80.3 C1063.6,80.4 1066.2,80.5 1068.8,80.5 C1071.4,80.5 1074.1,80.5 1076.8,80.6 C1079.5,80.6 1082.1,80.7 1084.8,80.8 C1087.5,80.9 1090.0,81.0 1092.7,81.1 C1095.4,81.2 1098.0,81.3 1100.7,81.4 C1103.4,81.5 1106.0,81.7 1108.7,81.8 C1111.4,81.9 1114.0,82.1 1116.7,82.3 C1119.4,82.5 1122.0,82.8 1124.7,83.0 C1127.4,83.2 1130.1,83.5 1132.8,83.8 C1135.5,84.1 1138.1,84.4 1140.8,84.8 C1143.5,85.2 1146.1,85.6 1148.8,86.1 C1151.5,86.6 1154.2,87.1 1156.8,87.7 C1159.4,88.3 1162.0,89.0 1164.6,89.7 C1167.1,90.5 1169.6,91.3 1172.1,92.2 C1174.6,93.1 1177.0,94.1 1179.4,95.2 C1181.8,96.3 1184.2,97.6 1186.4,98.9 C1188.7,100.2 1190.8,101.7 1192.9,103.2 C1195.0,104.8 1197.0,106.4 1199.0,108.2 C1201.0,110.0 1202.9,111.8 1204.7,113.8 C1206.5,115.8 1208.2,117.8 1209.9,119.9 C1211.6,122.0 1213.2,124.2 1214.7,126.4 C1216.2,128.6 1217.7,130.9 1219.1,133.2 C1220.5,135.5 1221.8,137.8 1223.1,140.2 C1224.4,142.5 1225.6,144.9 1226.7,147.3 C1227.8,149.7 1228.9,152.2 1229.9,154.6 C1230.9,157.0 1231.9,159.5 1232.9,162.0 C1233.9,164.5 1234.8,167.0 1235.7,169.5 C1236.6,172.0 1237.4,174.5 1238.2,177.1 C1239.0,179.7 1239.8,182.2 1240.6,184.8 C1241.4,187.4 1242.2,189.9 1242.9,192.5 C1243.7,195.1 1244.4,197.6 1245.1,200.2 C1245.8,202.8 1246.5,205.3 1247.2,207.9 C1247.9,210.5 1248.6,213.0 1249.3,215.6 C1250.0,218.2 1250.6,220.8 1251.3,223.4 C1252.0,226.0 1252.6,228.5 1253.2,231.1 C1253.8,233.7 1254.5,236.3 1255.1,238.9 C1255.7,241.5 1256.3,244.1 1256.9,246.7 C1257.5,249.3 1258.0,251.9 1258.6,254.5 C1259.2,257.1 1259.8,259.7 1260.4,262.3 C1261.0,264.9 1261.5,267.5 1262.1,270.1 C1262.7,272.7 1263.2,275.4 1263.8,278.0 C1264.3,280.6 1264.9,283.2 1265.4,285.8 C1266.0,288.4 1266.5,291.0 1267.1,293.6 C1267.6,296.2 1268.2,298.8 1268.7,301.4 C1269.2,304.0 1269.8,306.7 1270.3,309.3 C1270.8,311.9 1271.4,314.5 1271.9,317.1 C1272.4,319.7 1273.0,322.4 1273.5,325.0 C1274.0,327.6 1274.6,330.2 1275.1,332.8 C1275.6,335.4 1276.1,338.0 1276.6,340.6 C1277.1,343.2 1277.7,345.9 1278.2,348.5 C1278.7,351.1 1279.2,353.7 1279.7,356.3 C1280.2,358.9 1280.7,361.6 1281.2,364.2 C1281.7,366.8 1282.2,369.5 1282.7,372.1 C1283.2,374.7 1283.7,377.3 1284.2,379.9 C1284.7,382.5 1285.2,385.2 1285.7,387.8 C1286.2,390.4 1286.6,393.0 1287.1,395.6 C1287.6,398.2 1288.1,400.9 1288.6,403.5 C1289.1,406.1 1289.5,408.8 1290.0,411.4 C1290.5,414.0 1291.0,416.6 1291.5,419.2 C1292.0,421.8 1292.4,424.5 1292.9,427.1 C1293.4,429.7 1293.8,432.4 1294.3,435.0 C1294.8,437.6 1295.2,440.2 1295.7,442.8 C1296.2,445.4 1296.6,448.1 1297.1,450.7 C1297.6,453.3 1298.0,456.0 1298.5,458.6 C1299.0,461.2 1299.3,463.9 1299.8,466.5 C1300.2,469.1 1300.8,471.8 1301.2,474.4 C1301.7,477.0 1302.0,479.6 1302.5,482.2 C1303.0,484.8 1303.5,487.5 1303.9,490.1 C1304.4,492.7 1304.8,495.4 1305.2,498.0 C1305.7,500.6 1306.1,503.3 1306.6,505.9 C1307.0,508.5 1307.5,511.2 1307.9,513.8 C1308.3,516.4 1308.8,519.1 1309.2,521.7 C1309.6,524.3 1310.1,527.0 1310.5,529.6 C1310.9,532.2 1311.4,534.9 1311.8,537.5 C1312.2,540.1 1312.7,542.8 1313.1,545.4 C1313.5,548.0 1314.0,550.7 1314.4,553.3 C1314.8,555.9 1315.3,558.6 1315.7,561.2 C1316.1,563.8 1316.5,566.5 1316.9,569.1 C1317.3,571.7 1317.8,574.4 1318.2,577.0 C1318.6,579.6 1319.1,582.3 1319.5,584.9 C1319.9,587.5 1320.3,590.2 1320.7,592.8 C1321.1,595.4 1321.6,598.1 1322.0,600.7 C1322.4,603.3 1322.8,606.0 1323.2,608.6 C1323.6,611.2 1324.1,613.9 1324.5,616.5 C1324.9,619.1 1325.3,621.8 1325.7,624.4 C1326.1,627.0 1326.6,629.7 1327.0,632.3 C1327.4,634.9 1327.8,637.6 1328.2,640.2 C1328.6,642.8 1329.1,645.5 1329.5,648.1 C1329.9,650.7 1330.3,653.4 1330.7,656.0 C1331.1,658.6 1331.6,661.3 1332.0,663.9 C1332.4,666.5 1332.8,669.2 1333.2,671.8 C1333.6,674.4 1334.0,677.1 1334.4,679.7 C1334.8,682.3 1335.3,685.0 1335.7,687.6 C1336.1,690.2 1336.5,692.9 1336.9,695.5 C1337.3,698.1 1337.7,700.8 1338.1,703.4 C1338.5,706.0 1339.0,708.7 1339.4,711.3 C1339.8,713.9 1340.2,716.6 1340.6,719.2 C1341.0,721.8 1341.4,724.5 1341.8,727.1 C1342.2,729.7 1342.7,732.4 1343.1,735.0 C1343.5,737.6 1343.9,740.4 1344.3,743.0 C1344.7,745.6 1345.1,748.3 1345.5,750.9 C1345.9,753.5 1346.4,756.2 1346.8,758.8 C1347.2,761.4 1347.6,764.1 1348.0,766.7 C1348.4,769.3 1348.9,772.0 1349.3,774.6 C1349.7,777.2 1350.1,779.9 1350.5,782.5 C1350.9,785.1 1351.4,787.8 1351.8,790.4 C1352.2,793.0 1352.6,795.7 1353.0,798.3 C1353.4,800.9 1353.9,803.6 1354.3,806.2 C1354.7,808.8 1355.1,811.5 1355.5,814.1 C1355.9,816.7 1356.4,819.4 1356.8,822.0 C1357.2,824.6 1357.7,827.3 1358.1,829.9 C1358.5,832.5 1358.9,835.2 1359.3,837.8 C1359.7,840.4 1360.2,843.1 1360.6,845.7 C1361.0,848.3 1361.5,851.0 1361.9,853.6 C1362.3,856.2 1362.8,858.9 1363.2,861.5 C1363.6,864.1 1364.1,866.8 1364.5,869.4 C1364.9,872.0 1365.4,874.7 1365.8,877.3 C1366.2,879.9 1366.7,882.6 1367.1,885.2 C1367.5,887.8 1368.0,890.5 1368.4,893.1 C1368.8,895.7 1369.3,898.3 1369.7,900.9 C1370.1,903.5 1370.5,906.2 1371.0,908.8 C1371.5,911.4 1372.0,914.1 1372.4,916.7 C1372.9,919.3 1373.3,922.0 1373.7,924.6 C1374.1,927.2 1374.5,929.9 1375.0,932.5 C1375.5,935.1 1376.0,937.8 1376.4,940.4 C1376.9,943.0 1377.2,945.6 1377.7,948.2 C1378.2,950.8 1378.6,953.5 1379.1,956.1 C1379.6,958.7 1380.0,961.4 1380.5,964.0 C1381.0,966.6 1381.4,969.3 1381.9,971.9 C1382.4,974.5 1382.8,977.1 1383.3,979.7 C1383.8,982.3 1384.2,985.0 1384.7,987.6 C1385.2,990.2 1385.6,992.9 1386.1,995.5 C1386.6,998.1 1387.0,1000.7 1387.5,1003.3 C1388.0,1005.9 1388.4,1008.6 1388.9,1011.2 C1389.4,1013.8 1389.9,1016.5 1390.4,1019.1 C1390.9,1021.7 1391.3,1024.3 1391.8,1026.9 C1392.3,1029.5 1392.8,1032.2 1393.3,1034.8 C1393.8,1037.4 1394.2,1040.0 1394.7,1042.6 C1395.2,1045.2 1395.7,1047.9 1396.2,1050.5 C1396.7,1053.1 1397.2,1055.8 1397.7,1058.4 C1398.2,1061.0 1398.7,1063.6 1399.2,1066.2 C1399.7,1068.8 1400.2,1071.5 1400.7,1074.1 C1401.2,1076.7 1401.8,1079.3 1402.3,1081.9 C1402.8,1084.5 1403.3,1087.2 1403.8,1089.8 C1404.3,1092.4 1404.9,1095.0 1405.4,1097.6 C1405.9,1100.2 1406.4,1102.9 1406.9,1105.5 C1407.4,1108.1 1408.0,1110.8 1408.5,1113.4 C1409.0,1116.0 1409.5,1118.6 1410.1,1121.2 C1410.6,1123.8 1411.2,1126.5 1411.8,1129.1 C1412.3,1131.7 1412.9,1134.4 1413.4,1137.0 C1413.9,1139.6 1414.5,1142.3 1415.0,1144.9 C1415.5,1147.5 1416.1,1150.1 1416.7,1152.7 C1417.3,1155.3 1417.9,1158.0 1418.5,1160.6 C1419.1,1163.2 1419.8,1165.8 1420.4,1168.4 C1421.1,1171.0 1421.7,1173.5 1422.4,1176.1 C1423.1,1178.7 1423.8,1181.2 1424.5,1183.8 C1425.2,1186.4 1426.0,1189.0 1426.8,1191.5 C1427.6,1194.0 1428.4,1196.5 1429.3,1199.0 C1430.2,1201.5 1431.1,1204.0 1432.0,1206.5 C1432.9,1209.0 1433.9,1211.5 1434.9,1213.9 C1435.9,1216.4 1437.0,1218.8 1438.1,1221.2 C1439.2,1223.6 1440.4,1226.0 1441.6,1228.3 C1442.8,1230.6 1444.1,1233.0 1445.4,1235.3 C1446.7,1237.6 1448.1,1239.9 1449.6,1242.2 C1451.0,1244.5 1452.5,1246.7 1454.1,1248.9 C1455.6,1251.1 1457.2,1253.3 1458.9,1255.4 C1460.6,1257.5 1462.3,1259.6 1464.1,1261.6 C1465.9,1263.6 1467.7,1265.5 1469.6,1267.4 C1471.5,1269.3 1473.5,1271.2 1475.5,1272.9 C1477.5,1274.7 1479.6,1276.3 1481.7,1277.9 C1483.8,1279.5 1486.0,1280.9 1488.2,1282.3 C1490.4,1283.7 1492.8,1285.0 1495.1,1286.2 C1497.4,1287.4 1499.9,1288.5 1502.3,1289.5 C1504.7,1290.5 1507.2,1291.4 1509.7,1292.2 C1512.2,1293.0 1514.8,1293.7 1517.4,1294.4 C1520.0,1295.1 1522.6,1295.7 1525.2,1296.3 C1527.8,1296.9 1530.4,1297.5 1533.0,1298.1 C1535.6,1298.7 1538.2,1299.3 1540.8,1299.9 C1543.4,1300.5 1546.1,1301.1 1548.7,1301.7 C1551.3,1302.3 1553.9,1302.9 1556.5,1303.5 C1559.1,1304.1 1561.7,1304.7 1564.3,1305.3 C1566.9,1305.9 1569.5,1306.5 1572.1,1307.1 C1574.7,1307.7 1577.3,1308.3 1579.9,1308.9 C1582.5,1309.5 1585.1,1310.1 1587.7,1310.7 C1590.3,1311.3 1592.9,1312.0 1595.5,1312.6 C1598.1,1313.2 1600.7,1313.8 1603.3,1314.4 C1605.9,1315.0 1608.5,1315.7 1611.1,1316.3 C1613.7,1316.9 1616.2,1317.6 1618.8,1318.2 C1621.4,1318.8 1624.0,1319.4 1626.6,1320.0 C1629.2,1320.6 1631.8,1321.3 1634.4,1321.9 C1637.0,1322.5 1639.6,1323.2 1642.2,1323.8 C1644.8,1324.4 1647.3,1325.1 1649.9,1325.7 C1652.5,1326.3 1655.1,1327.0 1657.7,1327.6 C1660.3,1328.2 1662.8,1328.9 1665.4,1329.5 C1668.0,1330.1 1670.6,1330.8 1673.2,1331.4 C1675.8,1332.0 1678.4,1332.7 1681.0,1333.3 C1683.6,1333.9 1686.1,1334.6 1688.7,1335.2 C1691.3,1335.8 1693.9,1336.5 1696.5,1337.1 C1699.1,1337.7 1701.7,1338.4 1704.3,1339.0 C1706.9,1339.6 1709.4,1340.3 1712.0,1340.9 C1714.6,1341.5 1717.2,1342.2 1719.8,1342.8 C1722.4,1343.4 1725.0,1344.0 1727.6,1344.6 C1730.2,1345.2 1732.7,1345.9 1735.3,1346.5 C1737.9,1347.1 1740.5,1347.8 1743.1,1348.4 C1745.7,1349.0 1748.3,1349.7 1750.9,1350.3 C1753.5,1350.9 1756.1,1351.5 1758.7,1352.1 C1761.3,1352.7 1763.9,1353.3 1766.5,1354.0 C1769.1,1354.7 1771.6,1355.3 1774.2,1356.0 C1776.8,1356.7 1779.4,1357.3 1782.0,1358.0 C1784.6,1358.7 1787.1,1359.3 1789.7,1360.0 C1792.3,1360.7 1794.9,1361.5 1797.4,1362.2 C1800.0,1363.0 1802.5,1363.7 1805.0,1364.5 C1807.5,1365.3 1810.1,1366.1 1812.6,1366.9 C1815.1,1367.7 1817.7,1368.6 1820.2,1369.5 C1822.7,1370.4 1825.2,1371.3 1827.7,1372.3 C1830.2,1373.3 1832.6,1374.3 1835.1,1375.3 C1837.6,1376.3 1840.0,1377.3 1842.5,1378.4 C1845.0,1379.5 1847.4,1380.7 1849.8,1381.8 C1852.2,1382.9 1854.6,1384.0 1857.0,1385.2 C1859.4,1386.4 1861.8,1387.6 1864.2,1388.8 C1866.6,1390.0 1869.0,1391.2 1871.4,1392.4 C1873.8,1393.6 1876.2,1394.8 1878.6,1396.0 C1881.0,1397.2 1883.3,1398.4 1885.7,1399.6 C1888.1,1400.8 1890.5,1401.9 1892.9,1403.1 C1895.3,1404.2 1897.7,1405.4 1900.1,1406.5 C1902.5,1407.6 1904.9,1408.8 1907.3,1409.9 C1909.7,1411.0 1912.1,1412.2 1914.5,1413.3 C1916.9,1414.4 1919.3,1415.6 1921.7,1416.7 C1924.1,1417.8 1926.6,1419.0 1929.0,1420.1 C1931.4,1421.2 1933.8,1422.4 1936.2,1423.5 C1938.6,1424.6 1941.1,1425.7 1943.6,1426.8 C1946.1,1427.9 1948.5,1428.9 1951.0,1429.9 C1953.5,1430.9 1955.9,1432.0 1958.4,1432.9 C1960.9,1433.9 1963.4,1434.8 1965.9,1435.6 C1968.4,1436.4 1971.0,1437.2 1973.5,1438.0 C1976.0,1438.8 1978.6,1439.5 1981.2,1440.1 C1983.8,1440.7 1986.4,1441.2 1989.0,1441.7 C1991.6,1442.2 1994.2,1442.6 1996.8,1442.9 C1999.4,1443.2 2002.1,1443.5 2004.8,1443.7 C2007.5,1443.9 2010.1,1444.2 2012.8,1444.3 C2015.5,1444.4 2018.1,1444.5 2020.8,1444.6 C2023.5,1444.7 2026.1,1444.7 2028.8,1444.7 C2031.5,1444.7 2034.2,1444.7 2036.9,1444.7 C2039.6,1444.7 2042.2,1444.7 2044.9,1444.7 C2047.6,1444.7 2050.3,1444.6 2053.0,1444.6 C2055.7,1444.6 2058.3,1444.6 2061.0,1444.6 C2063.7,1444.6 2066.3,1444.5 2069.0,1444.5 C2071.7,1444.5 2074.3,1444.4 2077.0,1444.4 C2079.7,1444.4 2082.3,1444.4 2085.0,1444.4 C2087.7,1444.4 2090.3,1444.3 2093.0,1444.3 C2095.7,1444.3 2098.3,1444.3 2101.0,1444.3 C2103.7,1444.3 2106.3,1444.2 2109.0,1444.2 C2111.7,1444.2 2114.2,1444.2 2116.9,1444.2 C2119.6,1444.2 2122.2,1444.3 2124.9,1444.3 C2127.6,1444.3 2130.2,1444.3 2132.9,1444.3 C2135.6,1444.3 2138.2,1444.4 2140.9,1444.4 C2143.6,1444.5 2146.2,1444.5 2148.8,1444.6 C2151.5,1444.7 2154.1,1444.7 2156.8,1444.8 C2159.5,1444.9 2162.1,1445.0 2164.8,1445.1 C2167.5,1445.2 2170.1,1445.3 2172.8,1445.4 C2175.5,1445.5 2178.1,1445.7 2180.8,1445.8 C2183.5,1445.9 2186.1,1446.0 2188.8,1446.2 C2191.5,1446.4 2194.1,1446.5 2196.8,1446.7 C2199.5,1446.9 2202.1,1447.1 2204.8,1447.3 C2207.5,1447.5 2210.1,1447.8 2212.8,1448.0 C2215.5,1448.2 2218.2,1448.5 2220.8,1448.7 C2223.5,1449.0 2226.0,1449.2 2228.7,1449.5 C2231.3,1449.8 2234.0,1450.0 2236.7,1450.3 C2239.4,1450.6 2242.0,1450.9 2244.7,1451.2 C2247.3,1451.5 2250.0,1451.9 2252.6,1452.2 C2255.2,1452.5 2257.9,1452.9 2260.5,1453.3 C2263.1,1453.7 2265.8,1454.0 2268.4,1454.4 C2271.0,1454.8 2273.7,1455.1 2276.3,1455.5 C2278.9,1455.9 2281.6,1456.4 2284.2,1456.8 C2286.8,1457.2 2290.5,1457.8 2292.0,1458.1 C2293.5,1458.3 2292.9,1458.3 2293.1,1458.3" stroke="#e8130f" stroke-width="11.5"/>
</g>
<g shape-rendering="geometricPrecision">
<rect x="292.1" y="37.2" width="3.9" height="1439" fill="#858585"/>
<rect x="272" y="1452.6" width="2037.8" height="3.9" fill="#858585"/>
<rect x="272" y="1452.6" width="21" height="3.8" fill="#858585"/>
<rect x="272" y="1170.7" width="21" height="3.8" fill="#858585"/>
<rect x="272" y="889.1" width="21" height="3.8" fill="#858585"/>
<rect x="272" y="603.9" width="21" height="3.8" fill="#858585"/>
<rect x="272" y="322.3" width="21" height="3.8" fill="#858585"/>
<rect x="272" y="41.1" width="21" height="3.8" fill="#858585"/>
<rect x="291.9" y="1450" width="3.8" height="26" fill="#858585"/>
<rect x="542.4" y="1450" width="3.8" height="26" fill="#858585"/>
<rect x="793.6" y="1450" width="3.8" height="26" fill="#858585"/>
<rect x="1047.6" y="1450" width="3.8" height="26" fill="#858585"/>
<rect x="1299.1" y="1450" width="3.8" height="26" fill="#858585"/>
<rect x="1549.6" y="1450" width="3.8" height="26" fill="#858585"/>
<rect x="1800.5" y="1450" width="3.8" height="26" fill="#858585"/>
<rect x="2055.1" y="1450" width="3.8" height="26" fill="#858585"/>
<rect x="2306.1" y="1450" width="3.8" height="26" fill="#858585"/>
</g>
<text class="tick" x="240" y="1475.8" text-anchor="end">0</text>
<text class="tick" x="240" y="1193.9" text-anchor="end">20</text>
<text class="tick" x="240" y="912.3" text-anchor="end">40</text>
<text class="tick" x="240" y="627.1" text-anchor="end">60</text>
<text class="tick" x="240" y="345.5" text-anchor="end">80</text>
<text class="tick" x="240" y="64.3" text-anchor="end">100</text>
<text class="tick" x="295.2" y="1576" text-anchor="middle">0</text>
<text class="tick" x="550.0" y="1576" text-anchor="middle">100</text>
<text class="tick" x="799.2" y="1576" text-anchor="middle">200</text>
<text class="tick" x="1049.9" y="1576" text-anchor="middle">300</text>
<text class="tick" x="1300.8" y="1576" text-anchor="middle">400</text>
<text class="tick" x="1553.4" y="1576" text-anchor="middle">500</text>
<text class="tick" x="1807.6" y="1576" text-anchor="middle">600</text>
<text class="tick" x="2058.8" y="1576" text-anchor="middle">700</text>
<text class="tick" x="2309.7" y="1576" text-anchor="middle">800</text>
<rect x="1866.3" y="210.9" width="138.7" height="11.4" rx="2" fill="#000000"/>
<text class="leg" x="2012.5" y="241.2">M4</text>
<rect x="1866.3" y="326.5" width="138.7" height="11.4" rx="2" fill="#c0554f"/>
<text class="leg" x="2012.5" y="353.2">M4T1</text>
<rect x="1866.3" y="438.3" width="138.7" height="11.4" rx="2" fill="#0000c0"/>
<text class="leg" x="2012.5" y="468.2">M4T2</text>
<rect x="1866.3" y="553.9" width="138.7" height="11.4" rx="2" fill="#00d848"/>
<text class="leg" x="2012.5" y="580.8">M4T3</text>
<rect x="1866.3" y="665.7" width="138.7" height="11.4" rx="2" fill="#e8130f"/>
<text class="leg" x="2012.5" y="692.6">M4T4</text>
<text class="ttl" x="1048.5" y="1703" textLength="508" lengthAdjust="spacing">Temperature (ºC)</text>
<text class="ttl" transform="translate(69,990.5) rotate(-90)" textLength="478" lengthAdjust="spacing">Weight Loss (%)</text>
</svg>
</body>
</html>
